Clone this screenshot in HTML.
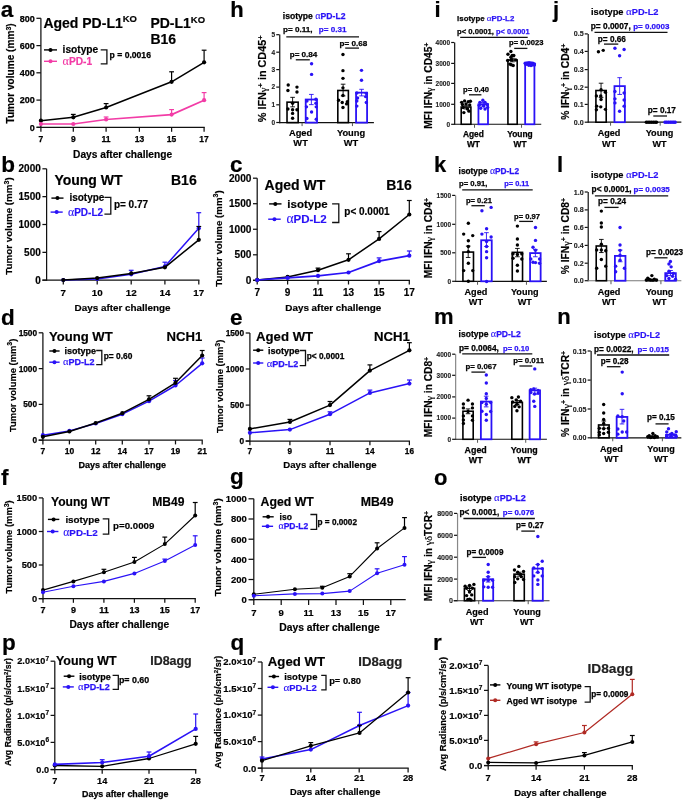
<!DOCTYPE html>
<html><head><meta charset="utf-8"><style>
html,body{margin:0;padding:0;background:#fff;width:685px;height:800px;overflow:hidden}
svg{display:block;will-change:transform;filter:blur(0.3px)}
text{font-family:"Liberation Sans",sans-serif}
</style></head><body>
<svg width="685" height="800" viewBox="0 0 685 800" font-family="Liberation Sans, sans-serif">
<rect width="685" height="800" fill="#fff"/>
<line x1="40.90" y1="18.30" x2="40.90" y2="127.92" stroke="#111" stroke-width="1.25" stroke-linecap="butt"/>
<line x1="36.70" y1="127.30" x2="204.72" y2="127.30" stroke="#111" stroke-width="1.25" stroke-linecap="butt"/>
<line x1="36.40" y1="18.30" x2="40.90" y2="18.30" stroke="#111" stroke-width="1.25" stroke-linecap="butt"/>
<text x="34.80" y="21.50" font-size="9" text-anchor="end" fill="#000" font-weight="bold" stroke="#000" stroke-width="0.25">800</text>
<line x1="36.40" y1="45.60" x2="40.90" y2="45.60" stroke="#111" stroke-width="1.25" stroke-linecap="butt"/>
<text x="34.80" y="48.80" font-size="9" text-anchor="end" fill="#000" font-weight="bold" stroke="#000" stroke-width="0.25">600</text>
<line x1="36.40" y1="72.80" x2="40.90" y2="72.80" stroke="#111" stroke-width="1.25" stroke-linecap="butt"/>
<text x="34.80" y="75.99" font-size="9" text-anchor="end" fill="#000" font-weight="bold" stroke="#000" stroke-width="0.25">400</text>
<line x1="36.40" y1="100.10" x2="40.90" y2="100.10" stroke="#111" stroke-width="1.25" stroke-linecap="butt"/>
<text x="34.80" y="103.29" font-size="9" text-anchor="end" fill="#000" font-weight="bold" stroke="#000" stroke-width="0.25">200</text>
<line x1="36.40" y1="127.30" x2="40.90" y2="127.30" stroke="#111" stroke-width="1.25" stroke-linecap="butt"/>
<text x="34.80" y="130.50" font-size="9" text-anchor="end" fill="#000" font-weight="bold" stroke="#000" stroke-width="0.25">0</text>
<line x1="40.90" y1="127.30" x2="40.90" y2="131.80" stroke="#111" stroke-width="1.25" stroke-linecap="butt"/>
<text x="40.90" y="141.62" font-size="8.5" text-anchor="middle" fill="#000" font-weight="bold" stroke="#000" stroke-width="0.25">7</text>
<line x1="73.30" y1="127.30" x2="73.30" y2="131.80" stroke="#111" stroke-width="1.25" stroke-linecap="butt"/>
<text x="73.30" y="141.62" font-size="8.5" text-anchor="middle" fill="#000" font-weight="bold" stroke="#000" stroke-width="0.25">9</text>
<line x1="106.10" y1="127.30" x2="106.10" y2="131.80" stroke="#111" stroke-width="1.25" stroke-linecap="butt"/>
<text x="106.10" y="141.62" font-size="8.5" text-anchor="middle" fill="#000" font-weight="bold" stroke="#000" stroke-width="0.25">11</text>
<line x1="139.40" y1="127.30" x2="139.40" y2="131.80" stroke="#111" stroke-width="1.25" stroke-linecap="butt"/>
<text x="139.40" y="141.62" font-size="8.5" text-anchor="middle" fill="#000" font-weight="bold" stroke="#000" stroke-width="0.25">13</text>
<line x1="171.60" y1="127.30" x2="171.60" y2="131.80" stroke="#111" stroke-width="1.25" stroke-linecap="butt"/>
<text x="171.60" y="141.62" font-size="8.5" text-anchor="middle" fill="#000" font-weight="bold" stroke="#000" stroke-width="0.25">15</text>
<line x1="204.10" y1="127.30" x2="204.10" y2="131.80" stroke="#111" stroke-width="1.25" stroke-linecap="butt"/>
<text x="204.10" y="141.62" font-size="8.5" text-anchor="middle" fill="#000" font-weight="bold" stroke="#000" stroke-width="0.25">17</text>
<text x="122.60" y="158.12" font-size="10.2" text-anchor="middle" fill="#000" font-weight="bold" stroke="#000" stroke-width="0.18">Days after challenge</text>
<text x="14.33" y="73.40" font-size="10.1" text-anchor="middle" font-weight="bold" stroke="#000" stroke-width="0.18" transform="rotate(-90 14.33 73.40)">Tumor volume (mm<tspan dy="-3.5" font-size="7">3</tspan><tspan dy="3.5">)</tspan></text>
<line x1="73.30" y1="117.30" x2="73.30" y2="114.40" stroke="#000" stroke-width="1.2" stroke-linecap="butt"/>
<line x1="70.90" y1="114.40" x2="75.70" y2="114.40" stroke="#000" stroke-width="1.2" stroke-linecap="butt"/>
<line x1="106.10" y1="107.50" x2="106.10" y2="103.60" stroke="#000" stroke-width="1.2" stroke-linecap="butt"/>
<line x1="103.70" y1="103.60" x2="108.50" y2="103.60" stroke="#000" stroke-width="1.2" stroke-linecap="butt"/>
<line x1="171.60" y1="81.80" x2="171.60" y2="71.80" stroke="#000" stroke-width="1.2" stroke-linecap="butt"/>
<line x1="169.20" y1="71.80" x2="174.00" y2="71.80" stroke="#000" stroke-width="1.2" stroke-linecap="butt"/>
<line x1="204.10" y1="62.30" x2="204.10" y2="50.20" stroke="#000" stroke-width="1.2" stroke-linecap="butt"/>
<line x1="201.70" y1="50.20" x2="206.50" y2="50.20" stroke="#000" stroke-width="1.2" stroke-linecap="butt"/>
<polyline points="40.90,120.70 73.30,117.30 106.10,107.50 171.60,81.80 204.10,62.30" fill="none" stroke="#000" stroke-width="1.5" stroke-linejoin="round"/>
<circle cx="40.90" cy="120.70" r="2.1" fill="#000"/>
<circle cx="73.30" cy="117.30" r="2.1" fill="#000"/>
<circle cx="106.10" cy="107.50" r="2.1" fill="#000"/>
<circle cx="171.60" cy="81.80" r="2.1" fill="#000"/>
<circle cx="204.10" cy="62.30" r="2.1" fill="#000"/>
<line x1="106.10" y1="119.50" x2="106.10" y2="117.00" stroke="#f23ca6" stroke-width="1.2" stroke-linecap="butt"/>
<line x1="103.70" y1="117.00" x2="108.50" y2="117.00" stroke="#f23ca6" stroke-width="1.2" stroke-linecap="butt"/>
<line x1="171.60" y1="114.60" x2="171.60" y2="109.60" stroke="#f23ca6" stroke-width="1.2" stroke-linecap="butt"/>
<line x1="169.20" y1="109.60" x2="174.00" y2="109.60" stroke="#f23ca6" stroke-width="1.2" stroke-linecap="butt"/>
<line x1="204.10" y1="100.20" x2="204.10" y2="92.60" stroke="#f23ca6" stroke-width="1.2" stroke-linecap="butt"/>
<line x1="201.70" y1="92.60" x2="206.50" y2="92.60" stroke="#f23ca6" stroke-width="1.2" stroke-linecap="butt"/>
<polyline points="40.90,124.00 73.30,124.00 106.10,119.50 171.60,114.60 204.10,100.20" fill="none" stroke="#f23ca6" stroke-width="1.7" stroke-linejoin="round"/>
<circle cx="40.90" cy="124.00" r="2.1" fill="#f23ca6"/>
<circle cx="73.30" cy="124.00" r="2.1" fill="#f23ca6"/>
<circle cx="106.10" cy="119.50" r="2.1" fill="#f23ca6"/>
<circle cx="171.60" cy="114.60" r="2.1" fill="#f23ca6"/>
<circle cx="204.10" cy="100.20" r="2.1" fill="#f23ca6"/>
<text x="0.80" y="17.30" font-size="22.5" text-anchor="start" fill="#000" font-weight="bold" stroke="#000" stroke-width="0.18">a</text>
<text x="43.40" y="27.70" font-size="14" text-anchor="start" fill="#000" font-weight="bold" stroke="#000" stroke-width="0.18">Aged PD-L1<tspan dy="-5.5" font-size="9.5">KO</tspan></text>
<text x="150.40" y="28.00" font-size="14" text-anchor="start" fill="#000" font-weight="bold" stroke="#000" stroke-width="0.18">PD-L1<tspan dy="-5.5" font-size="9.5">KO</tspan></text>
<text x="150.40" y="43.70" font-size="14" text-anchor="start" fill="#000" font-weight="bold" stroke="#000" stroke-width="0.18">B16</text>
<line x1="44.00" y1="49.90" x2="57.00" y2="49.90" stroke="#000" stroke-width="1.4" stroke-linecap="butt"/>
<circle cx="50.50" cy="49.90" r="2.0" fill="#000"/>
<text x="62.60" y="53.40" font-size="10.2" text-anchor="start" fill="#000" font-weight="bold" stroke="#000" stroke-width="0.18">isotype</text>
<line x1="44.00" y1="61.30" x2="57.00" y2="61.30" stroke="#f23ca6" stroke-width="1.4" stroke-linecap="butt"/>
<circle cx="50.50" cy="61.30" r="2.0" fill="#f23ca6"/>
<text x="62.60" y="65.30" font-size="10.2" text-anchor="start" fill="#f23ca6" font-weight="bold" stroke="#f23ca6" stroke-width="0.18"><tspan font-family="Liberation Serif" font-weight="normal" stroke-width="0.1" style="font-size:1.18em">&#945;</tspan>PD-1</text>
<polyline points="100.70,49.90 106.90,49.90 106.90,63.80 100.70,63.80" fill="none" stroke="#111" stroke-width="1.3"/>
<text x="109.60" y="58.40" font-size="8.6" text-anchor="start" fill="#000" font-weight="bold" stroke="#000" stroke-width="0.25">p = 0.0016</text>
<line x1="46.60" y1="168.80" x2="46.60" y2="280.82" stroke="#111" stroke-width="1.25" stroke-linecap="butt"/>
<line x1="42.40" y1="280.20" x2="199.43" y2="280.20" stroke="#111" stroke-width="1.25" stroke-linecap="butt"/>
<line x1="42.40" y1="168.80" x2="46.60" y2="168.80" stroke="#111" stroke-width="1.25" stroke-linecap="butt"/>
<text x="40.80" y="172.35" font-size="10" text-anchor="end" fill="#000" font-weight="bold" stroke="#000" stroke-width="0.18">2000</text>
<line x1="42.40" y1="196.65" x2="46.60" y2="196.65" stroke="#111" stroke-width="1.25" stroke-linecap="butt"/>
<text x="40.80" y="200.20" font-size="10" text-anchor="end" fill="#000" font-weight="bold" stroke="#000" stroke-width="0.18">1500</text>
<line x1="42.40" y1="224.50" x2="46.60" y2="224.50" stroke="#111" stroke-width="1.25" stroke-linecap="butt"/>
<text x="40.80" y="228.05" font-size="10" text-anchor="end" fill="#000" font-weight="bold" stroke="#000" stroke-width="0.18">1000</text>
<line x1="42.40" y1="252.35" x2="46.60" y2="252.35" stroke="#111" stroke-width="1.25" stroke-linecap="butt"/>
<text x="40.80" y="255.90" font-size="10" text-anchor="end" fill="#000" font-weight="bold" stroke="#000" stroke-width="0.18">500</text>
<line x1="42.40" y1="280.20" x2="46.60" y2="280.20" stroke="#111" stroke-width="1.25" stroke-linecap="butt"/>
<text x="40.80" y="283.75" font-size="10" text-anchor="end" fill="#000" font-weight="bold" stroke="#000" stroke-width="0.18">0</text>
<line x1="63.30" y1="280.20" x2="63.30" y2="284.40" stroke="#111" stroke-width="1.25" stroke-linecap="butt"/>
<text x="63.30" y="296.38" font-size="9.8" text-anchor="middle" fill="#000" font-weight="bold" stroke="#000" stroke-width="0.18">7</text>
<line x1="97.20" y1="280.20" x2="97.20" y2="284.40" stroke="#111" stroke-width="1.25" stroke-linecap="butt"/>
<text x="97.20" y="296.38" font-size="9.8" text-anchor="middle" fill="#000" font-weight="bold" stroke="#000" stroke-width="0.18">10</text>
<line x1="131.20" y1="280.20" x2="131.20" y2="284.40" stroke="#111" stroke-width="1.25" stroke-linecap="butt"/>
<text x="131.20" y="296.38" font-size="9.8" text-anchor="middle" fill="#000" font-weight="bold" stroke="#000" stroke-width="0.18">12</text>
<line x1="164.90" y1="280.20" x2="164.90" y2="284.40" stroke="#111" stroke-width="1.25" stroke-linecap="butt"/>
<text x="164.90" y="296.38" font-size="9.8" text-anchor="middle" fill="#000" font-weight="bold" stroke="#000" stroke-width="0.18">14</text>
<line x1="198.80" y1="280.20" x2="198.80" y2="284.40" stroke="#111" stroke-width="1.25" stroke-linecap="butt"/>
<text x="198.80" y="296.38" font-size="9.8" text-anchor="middle" fill="#000" font-weight="bold" stroke="#000" stroke-width="0.18">17</text>
<text x="122.60" y="310.61" font-size="9.9" text-anchor="middle" fill="#000" font-weight="bold" stroke="#000" stroke-width="0.18">Days after challenge</text>
<text x="12.43" y="226.00" font-size="9.8" text-anchor="middle" font-weight="bold" stroke="#000" stroke-width="0.18" transform="rotate(-90 12.43 226.00)">Tumor volume (mm<tspan dy="-3.5" font-size="7">3</tspan><tspan dy="3.5">)</tspan></text>
<line x1="131.20" y1="274.30" x2="131.20" y2="270.30" stroke="#2a12f6" stroke-width="1.2" stroke-linecap="butt"/>
<line x1="128.80" y1="270.30" x2="133.60" y2="270.30" stroke="#2a12f6" stroke-width="1.2" stroke-linecap="butt"/>
<line x1="164.90" y1="266.40" x2="164.90" y2="262.20" stroke="#2a12f6" stroke-width="1.2" stroke-linecap="butt"/>
<line x1="162.50" y1="262.20" x2="167.30" y2="262.20" stroke="#2a12f6" stroke-width="1.2" stroke-linecap="butt"/>
<line x1="198.80" y1="228.30" x2="198.80" y2="212.70" stroke="#2a12f6" stroke-width="1.2" stroke-linecap="butt"/>
<line x1="196.40" y1="212.70" x2="201.20" y2="212.70" stroke="#2a12f6" stroke-width="1.2" stroke-linecap="butt"/>
<polyline points="63.30,280.00 97.20,279.00 131.20,274.30 164.90,266.40 198.80,228.30" fill="none" stroke="#2a12f6" stroke-width="1.5" stroke-linejoin="round"/>
<circle cx="63.30" cy="280.00" r="2.1" fill="#2a12f6"/>
<circle cx="97.20" cy="279.00" r="2.1" fill="#2a12f6"/>
<circle cx="131.20" cy="274.30" r="2.1" fill="#2a12f6"/>
<circle cx="164.90" cy="266.40" r="2.1" fill="#2a12f6"/>
<circle cx="198.80" cy="228.30" r="2.1" fill="#2a12f6"/>
<line x1="198.80" y1="239.80" x2="198.80" y2="226.50" stroke="#000" stroke-width="1.2" stroke-linecap="butt"/>
<line x1="196.40" y1="226.50" x2="201.20" y2="226.50" stroke="#000" stroke-width="1.2" stroke-linecap="butt"/>
<polyline points="63.30,280.00 97.20,278.10 131.20,273.40 164.90,267.30 198.80,239.80" fill="none" stroke="#000" stroke-width="1.5" stroke-linejoin="round"/>
<circle cx="63.30" cy="280.00" r="2.1" fill="#000"/>
<circle cx="97.20" cy="278.10" r="2.1" fill="#000"/>
<circle cx="131.20" cy="273.40" r="2.1" fill="#000"/>
<circle cx="164.90" cy="267.30" r="2.1" fill="#000"/>
<circle cx="198.80" cy="239.80" r="2.1" fill="#000"/>
<text x="1.20" y="171.50" font-size="22.5" text-anchor="start" fill="#000" font-weight="bold" stroke="#000" stroke-width="0.18">b</text>
<text x="54.40" y="184.90" font-size="14" text-anchor="start" fill="#000" font-weight="bold" stroke="#000" stroke-width="0.18">Young WT</text>
<text x="171.00" y="184.90" font-size="14" text-anchor="start" fill="#000" font-weight="bold" stroke="#000" stroke-width="0.18">B16</text>
<line x1="51.40" y1="198.10" x2="63.50" y2="198.10" stroke="#000" stroke-width="1.4" stroke-linecap="butt"/>
<circle cx="57.45" cy="198.10" r="2.0" fill="#000"/>
<text x="69.40" y="201.30" font-size="10" text-anchor="start" fill="#000" font-weight="bold" stroke="#000" stroke-width="0.18">isotype</text>
<line x1="50.60" y1="212.10" x2="62.70" y2="212.10" stroke="#2a12f6" stroke-width="1.4" stroke-linecap="butt"/>
<circle cx="56.65" cy="212.10" r="2.0" fill="#2a12f6"/>
<text x="68.00" y="215.80" font-size="10" text-anchor="start" fill="#2a12f6" font-weight="bold" stroke="#2a12f6" stroke-width="0.18"><tspan font-family="Liberation Serif" font-weight="normal" stroke-width="0.1" style="font-size:1.18em">&#945;</tspan>PD-L2</text>
<polyline points="104.40,197.30 110.80,197.30 110.80,214.20 104.40,214.20" fill="none" stroke="#111" stroke-width="1.3"/>
<text x="113.90" y="207.70" font-size="10" text-anchor="start" fill="#000" font-weight="bold" stroke="#000" stroke-width="0.18">p= 0.77</text>
<line x1="257.20" y1="178.20" x2="257.20" y2="280.93" stroke="#111" stroke-width="1.25" stroke-linecap="butt"/>
<line x1="253.00" y1="280.30" x2="409.93" y2="280.30" stroke="#111" stroke-width="1.25" stroke-linecap="butt"/>
<line x1="253.00" y1="178.20" x2="257.20" y2="178.20" stroke="#111" stroke-width="1.25" stroke-linecap="butt"/>
<text x="251.40" y="181.79" font-size="10.1" text-anchor="end" fill="#000" font-weight="bold" stroke="#000" stroke-width="0.18">2000</text>
<line x1="253.00" y1="203.70" x2="257.20" y2="203.70" stroke="#111" stroke-width="1.25" stroke-linecap="butt"/>
<text x="251.40" y="207.29" font-size="10.1" text-anchor="end" fill="#000" font-weight="bold" stroke="#000" stroke-width="0.18">1500</text>
<line x1="253.00" y1="229.25" x2="257.20" y2="229.25" stroke="#111" stroke-width="1.25" stroke-linecap="butt"/>
<text x="251.40" y="232.84" font-size="10.1" text-anchor="end" fill="#000" font-weight="bold" stroke="#000" stroke-width="0.18">1000</text>
<line x1="253.00" y1="254.80" x2="257.20" y2="254.80" stroke="#111" stroke-width="1.25" stroke-linecap="butt"/>
<text x="251.40" y="258.39" font-size="10.1" text-anchor="end" fill="#000" font-weight="bold" stroke="#000" stroke-width="0.18">500</text>
<line x1="253.00" y1="280.30" x2="257.20" y2="280.30" stroke="#111" stroke-width="1.25" stroke-linecap="butt"/>
<text x="251.40" y="283.89" font-size="10.1" text-anchor="end" fill="#000" font-weight="bold" stroke="#000" stroke-width="0.18">0</text>
<line x1="257.20" y1="280.30" x2="257.20" y2="284.50" stroke="#111" stroke-width="1.25" stroke-linecap="butt"/>
<text x="257.20" y="296.35" font-size="10" text-anchor="middle" fill="#000" font-weight="bold" stroke="#000" stroke-width="0.18">7</text>
<line x1="287.60" y1="280.30" x2="287.60" y2="284.50" stroke="#111" stroke-width="1.25" stroke-linecap="butt"/>
<text x="287.60" y="296.35" font-size="10" text-anchor="middle" fill="#000" font-weight="bold" stroke="#000" stroke-width="0.18">9</text>
<line x1="318.00" y1="280.30" x2="318.00" y2="284.50" stroke="#111" stroke-width="1.25" stroke-linecap="butt"/>
<text x="318.00" y="296.35" font-size="10" text-anchor="middle" fill="#000" font-weight="bold" stroke="#000" stroke-width="0.18">11</text>
<line x1="348.50" y1="280.30" x2="348.50" y2="284.50" stroke="#111" stroke-width="1.25" stroke-linecap="butt"/>
<text x="348.50" y="296.35" font-size="10" text-anchor="middle" fill="#000" font-weight="bold" stroke="#000" stroke-width="0.18">13</text>
<line x1="379.10" y1="280.30" x2="379.10" y2="284.50" stroke="#111" stroke-width="1.25" stroke-linecap="butt"/>
<text x="379.10" y="296.35" font-size="10" text-anchor="middle" fill="#000" font-weight="bold" stroke="#000" stroke-width="0.18">15</text>
<line x1="409.30" y1="280.30" x2="409.30" y2="284.50" stroke="#111" stroke-width="1.25" stroke-linecap="butt"/>
<text x="409.30" y="296.35" font-size="10" text-anchor="middle" fill="#000" font-weight="bold" stroke="#000" stroke-width="0.18">17</text>
<text x="333.30" y="311.21" font-size="9.9" text-anchor="middle" fill="#000" font-weight="bold" stroke="#000" stroke-width="0.18">Days after challenge</text>
<text x="221.80" y="238.50" font-size="9.7" text-anchor="middle" font-weight="bold" stroke="#000" stroke-width="0.18" transform="rotate(-90 221.80 238.50)">Tumor volume (mm<tspan dy="-3.5" font-size="7">3</tspan><tspan dy="3.5">)</tspan></text>
<line x1="318.00" y1="270.20" x2="318.00" y2="268.10" stroke="#000" stroke-width="1.2" stroke-linecap="butt"/>
<line x1="315.60" y1="268.10" x2="320.40" y2="268.10" stroke="#000" stroke-width="1.2" stroke-linecap="butt"/>
<line x1="348.50" y1="259.80" x2="348.50" y2="253.80" stroke="#000" stroke-width="1.2" stroke-linecap="butt"/>
<line x1="346.10" y1="253.80" x2="350.90" y2="253.80" stroke="#000" stroke-width="1.2" stroke-linecap="butt"/>
<line x1="379.10" y1="238.90" x2="379.10" y2="231.60" stroke="#000" stroke-width="1.2" stroke-linecap="butt"/>
<line x1="376.70" y1="231.60" x2="381.50" y2="231.60" stroke="#000" stroke-width="1.2" stroke-linecap="butt"/>
<line x1="409.30" y1="214.50" x2="409.30" y2="200.50" stroke="#000" stroke-width="1.2" stroke-linecap="butt"/>
<line x1="406.90" y1="200.50" x2="411.70" y2="200.50" stroke="#000" stroke-width="1.2" stroke-linecap="butt"/>
<polyline points="257.20,279.90 287.60,276.90 318.00,270.20 348.50,259.80 379.10,238.90 409.30,214.50" fill="none" stroke="#000" stroke-width="1.5" stroke-linejoin="round"/>
<circle cx="257.20" cy="279.90" r="2.1" fill="#000"/>
<circle cx="287.60" cy="276.90" r="2.1" fill="#000"/>
<circle cx="318.00" cy="270.20" r="2.1" fill="#000"/>
<circle cx="348.50" cy="259.80" r="2.1" fill="#000"/>
<circle cx="379.10" cy="238.90" r="2.1" fill="#000"/>
<circle cx="409.30" cy="214.50" r="2.1" fill="#000"/>
<line x1="379.10" y1="261.10" x2="379.10" y2="257.90" stroke="#2a12f6" stroke-width="1.2" stroke-linecap="butt"/>
<line x1="376.70" y1="257.90" x2="381.50" y2="257.90" stroke="#2a12f6" stroke-width="1.2" stroke-linecap="butt"/>
<line x1="409.30" y1="255.70" x2="409.30" y2="251.00" stroke="#2a12f6" stroke-width="1.2" stroke-linecap="butt"/>
<line x1="406.90" y1="251.00" x2="411.70" y2="251.00" stroke="#2a12f6" stroke-width="1.2" stroke-linecap="butt"/>
<polyline points="257.20,280.00 287.60,277.90 318.00,275.90 348.50,272.50 379.10,261.10 409.30,255.70" fill="none" stroke="#2a12f6" stroke-width="1.75" stroke-linejoin="round"/>
<circle cx="257.20" cy="280.00" r="2.1" fill="#2a12f6"/>
<circle cx="287.60" cy="277.90" r="2.1" fill="#2a12f6"/>
<circle cx="318.00" cy="275.90" r="2.1" fill="#2a12f6"/>
<circle cx="348.50" cy="272.50" r="2.1" fill="#2a12f6"/>
<circle cx="379.10" cy="261.10" r="2.1" fill="#2a12f6"/>
<circle cx="409.30" cy="255.70" r="2.1" fill="#2a12f6"/>
<text x="230.00" y="171.50" font-size="22.5" text-anchor="start" fill="#000" font-weight="bold" stroke="#000" stroke-width="0.18">c</text>
<text x="264.60" y="189.50" font-size="14" text-anchor="start" fill="#000" font-weight="bold" stroke="#000" stroke-width="0.18">Aged WT</text>
<text x="386.20" y="189.50" font-size="14" text-anchor="start" fill="#000" font-weight="bold" stroke="#000" stroke-width="0.18">B16</text>
<line x1="269.10" y1="203.90" x2="281.50" y2="203.90" stroke="#000" stroke-width="1.4" stroke-linecap="butt"/>
<circle cx="275.30" cy="203.90" r="2.0" fill="#000"/>
<text x="287.30" y="207.90" font-size="11.5" text-anchor="start" fill="#000" font-weight="bold" stroke="#000" stroke-width="0.18">isotype</text>
<line x1="268.20" y1="219.20" x2="280.70" y2="219.20" stroke="#2a12f6" stroke-width="1.4" stroke-linecap="butt"/>
<circle cx="274.45" cy="219.20" r="2.0" fill="#2a12f6"/>
<text x="286.40" y="223.20" font-size="11.5" text-anchor="start" fill="#2a12f6" font-weight="bold" stroke="#2a12f6" stroke-width="0.18"><tspan font-family="Liberation Serif" font-weight="normal" stroke-width="0.1" style="font-size:1.18em">&#945;</tspan>PD-L2</text>
<polyline points="332.10,203.90 338.80,203.90 338.80,222.50 332.10,222.50" fill="none" stroke="#111" stroke-width="1.3"/>
<text x="344.30" y="215.40" font-size="10" text-anchor="start" fill="#000" font-weight="bold" stroke="#000" stroke-width="0.18">p&lt; 0.0001</text>
<line x1="42.90" y1="332.80" x2="42.90" y2="440.82" stroke="#111" stroke-width="1.25" stroke-linecap="butt"/>
<line x1="38.70" y1="440.20" x2="202.82" y2="440.20" stroke="#111" stroke-width="1.25" stroke-linecap="butt"/>
<line x1="38.70" y1="332.80" x2="42.90" y2="332.80" stroke="#111" stroke-width="1.25" stroke-linecap="butt"/>
<text x="37.10" y="335.75" font-size="8.3" text-anchor="end" fill="#000" font-weight="bold" stroke="#000" stroke-width="0.25">1500</text>
<line x1="38.70" y1="368.60" x2="42.90" y2="368.60" stroke="#111" stroke-width="1.25" stroke-linecap="butt"/>
<text x="37.10" y="371.55" font-size="8.3" text-anchor="end" fill="#000" font-weight="bold" stroke="#000" stroke-width="0.25">1000</text>
<line x1="38.70" y1="404.40" x2="42.90" y2="404.40" stroke="#111" stroke-width="1.25" stroke-linecap="butt"/>
<text x="37.10" y="407.35" font-size="8.3" text-anchor="end" fill="#000" font-weight="bold" stroke="#000" stroke-width="0.25">500</text>
<line x1="38.70" y1="440.20" x2="42.90" y2="440.20" stroke="#111" stroke-width="1.25" stroke-linecap="butt"/>
<text x="37.10" y="443.15" font-size="8.3" text-anchor="end" fill="#000" font-weight="bold" stroke="#000" stroke-width="0.25">0</text>
<line x1="42.90" y1="440.20" x2="42.90" y2="444.40" stroke="#111" stroke-width="1.25" stroke-linecap="butt"/>
<text x="42.90" y="453.72" font-size="8.5" text-anchor="middle" fill="#000" font-weight="bold" stroke="#000" stroke-width="0.25">7</text>
<line x1="69.40" y1="440.20" x2="69.40" y2="444.40" stroke="#111" stroke-width="1.25" stroke-linecap="butt"/>
<text x="69.40" y="453.72" font-size="8.5" text-anchor="middle" fill="#000" font-weight="bold" stroke="#000" stroke-width="0.25">10</text>
<line x1="95.70" y1="440.20" x2="95.70" y2="444.40" stroke="#111" stroke-width="1.25" stroke-linecap="butt"/>
<text x="95.70" y="453.72" font-size="8.5" text-anchor="middle" fill="#000" font-weight="bold" stroke="#000" stroke-width="0.25">12</text>
<line x1="122.30" y1="440.20" x2="122.30" y2="444.40" stroke="#111" stroke-width="1.25" stroke-linecap="butt"/>
<text x="122.30" y="453.72" font-size="8.5" text-anchor="middle" fill="#000" font-weight="bold" stroke="#000" stroke-width="0.25">14</text>
<line x1="149.00" y1="440.20" x2="149.00" y2="444.40" stroke="#111" stroke-width="1.25" stroke-linecap="butt"/>
<text x="149.00" y="453.72" font-size="8.5" text-anchor="middle" fill="#000" font-weight="bold" stroke="#000" stroke-width="0.25">17</text>
<line x1="175.50" y1="440.20" x2="175.50" y2="444.40" stroke="#111" stroke-width="1.25" stroke-linecap="butt"/>
<text x="175.50" y="453.72" font-size="8.5" text-anchor="middle" fill="#000" font-weight="bold" stroke="#000" stroke-width="0.25">19</text>
<line x1="202.20" y1="440.20" x2="202.20" y2="444.40" stroke="#111" stroke-width="1.25" stroke-linecap="butt"/>
<text x="202.20" y="453.72" font-size="8.5" text-anchor="middle" fill="#000" font-weight="bold" stroke="#000" stroke-width="0.25">21</text>
<text x="122.35" y="468.09" font-size="9.0" text-anchor="middle" fill="#000" font-weight="bold" stroke="#000" stroke-width="0.25">Days after challenge</text>
<text x="15.80" y="385.30" font-size="9.4" text-anchor="middle" font-weight="bold" stroke="#000" stroke-width="0.18" transform="rotate(-90 15.80 385.30)">Tumor volume (mm<tspan dy="-3.5" font-size="7">3</tspan><tspan dy="3.5">)</tspan></text>
<line x1="175.50" y1="385.50" x2="175.50" y2="380.50" stroke="#2a12f6" stroke-width="1.2" stroke-linecap="butt"/>
<line x1="173.10" y1="380.50" x2="177.90" y2="380.50" stroke="#2a12f6" stroke-width="1.2" stroke-linecap="butt"/>
<line x1="202.20" y1="363.30" x2="202.20" y2="358.00" stroke="#2a12f6" stroke-width="1.2" stroke-linecap="butt"/>
<line x1="199.80" y1="358.00" x2="204.60" y2="358.00" stroke="#2a12f6" stroke-width="1.2" stroke-linecap="butt"/>
<polyline points="42.90,435.20 69.40,430.90 95.70,423.50 122.30,414.20 149.00,401.20 175.50,385.50 202.20,363.30" fill="none" stroke="#2a12f6" stroke-width="1.5" stroke-linejoin="round"/>
<circle cx="42.90" cy="435.20" r="2.1" fill="#2a12f6"/>
<circle cx="69.40" cy="430.90" r="2.1" fill="#2a12f6"/>
<circle cx="95.70" cy="423.50" r="2.1" fill="#2a12f6"/>
<circle cx="122.30" cy="414.20" r="2.1" fill="#2a12f6"/>
<circle cx="149.00" cy="401.20" r="2.1" fill="#2a12f6"/>
<circle cx="175.50" cy="385.50" r="2.1" fill="#2a12f6"/>
<circle cx="202.20" cy="363.30" r="2.1" fill="#2a12f6"/>
<line x1="149.00" y1="399.30" x2="149.00" y2="395.80" stroke="#000" stroke-width="1.2" stroke-linecap="butt"/>
<line x1="146.60" y1="395.80" x2="151.40" y2="395.80" stroke="#000" stroke-width="1.2" stroke-linecap="butt"/>
<line x1="175.50" y1="382.80" x2="175.50" y2="378.30" stroke="#000" stroke-width="1.2" stroke-linecap="butt"/>
<line x1="173.10" y1="378.30" x2="177.90" y2="378.30" stroke="#000" stroke-width="1.2" stroke-linecap="butt"/>
<line x1="202.20" y1="355.50" x2="202.20" y2="350.50" stroke="#000" stroke-width="1.2" stroke-linecap="butt"/>
<line x1="199.80" y1="350.50" x2="204.60" y2="350.50" stroke="#000" stroke-width="1.2" stroke-linecap="butt"/>
<polyline points="42.90,436.80 69.40,431.50 95.70,423.00 122.30,413.20 149.00,399.30 175.50,382.80 202.20,355.50" fill="none" stroke="#000" stroke-width="1.5" stroke-linejoin="round"/>
<circle cx="42.90" cy="436.80" r="2.1" fill="#000"/>
<circle cx="69.40" cy="431.50" r="2.1" fill="#000"/>
<circle cx="95.70" cy="423.00" r="2.1" fill="#000"/>
<circle cx="122.30" cy="413.20" r="2.1" fill="#000"/>
<circle cx="149.00" cy="399.30" r="2.1" fill="#000"/>
<circle cx="175.50" cy="382.80" r="2.1" fill="#000"/>
<circle cx="202.20" cy="355.50" r="2.1" fill="#000"/>
<text x="1.00" y="324.50" font-size="22.5" text-anchor="start" fill="#000" font-weight="bold" stroke="#000" stroke-width="0.18">d</text>
<text x="48.90" y="340.80" font-size="13.1" text-anchor="start" fill="#000" font-weight="bold" stroke="#000" stroke-width="0.18">Young WT</text>
<text x="166.60" y="340.80" font-size="13.1" text-anchor="start" fill="#000" font-weight="bold" stroke="#000" stroke-width="0.18">NCH1</text>
<line x1="49.30" y1="351.00" x2="59.60" y2="351.00" stroke="#000" stroke-width="1.4" stroke-linecap="butt"/>
<circle cx="54.45" cy="351.00" r="2.0" fill="#000"/>
<text x="64.40" y="353.90" font-size="9" text-anchor="start" fill="#000" font-weight="bold" stroke="#000" stroke-width="0.25">isotype</text>
<line x1="49.30" y1="362.20" x2="59.60" y2="362.20" stroke="#2a12f6" stroke-width="1.4" stroke-linecap="butt"/>
<circle cx="54.45" cy="362.20" r="2.0" fill="#2a12f6"/>
<text x="63.00" y="365.40" font-size="9" text-anchor="start" fill="#2a12f6" font-weight="bold" stroke="#2a12f6" stroke-width="0.25"><tspan font-family="Liberation Serif" font-weight="normal" stroke-width="0.1" style="font-size:1.18em">&#945;</tspan>PD-L2</text>
<polyline points="96.20,350.50 101.80,350.50 101.80,364.60 96.20,364.60" fill="none" stroke="#111" stroke-width="1.3"/>
<text x="103.70" y="359.30" font-size="8.4" text-anchor="start" fill="#000" font-weight="bold" stroke="#000" stroke-width="0.25">p= 0.60</text>
<line x1="249.90" y1="333.00" x2="249.90" y2="441.62" stroke="#111" stroke-width="1.25" stroke-linecap="butt"/>
<line x1="245.70" y1="441.00" x2="410.02" y2="441.00" stroke="#111" stroke-width="1.25" stroke-linecap="butt"/>
<line x1="245.70" y1="333.00" x2="249.90" y2="333.00" stroke="#111" stroke-width="1.25" stroke-linecap="butt"/>
<text x="244.10" y="335.95" font-size="8.3" text-anchor="end" fill="#000" font-weight="bold" stroke="#000" stroke-width="0.25">1500</text>
<line x1="245.70" y1="369.00" x2="249.90" y2="369.00" stroke="#111" stroke-width="1.25" stroke-linecap="butt"/>
<text x="244.10" y="371.95" font-size="8.3" text-anchor="end" fill="#000" font-weight="bold" stroke="#000" stroke-width="0.25">1000</text>
<line x1="245.70" y1="405.10" x2="249.90" y2="405.10" stroke="#111" stroke-width="1.25" stroke-linecap="butt"/>
<text x="244.10" y="408.05" font-size="8.3" text-anchor="end" fill="#000" font-weight="bold" stroke="#000" stroke-width="0.25">500</text>
<line x1="245.70" y1="441.00" x2="249.90" y2="441.00" stroke="#111" stroke-width="1.25" stroke-linecap="butt"/>
<text x="244.10" y="443.95" font-size="8.3" text-anchor="end" fill="#000" font-weight="bold" stroke="#000" stroke-width="0.25">0</text>
<line x1="249.90" y1="441.00" x2="249.90" y2="445.20" stroke="#111" stroke-width="1.25" stroke-linecap="butt"/>
<text x="249.90" y="453.61" font-size="8.2" text-anchor="middle" fill="#000" font-weight="bold" stroke="#000" stroke-width="0.25">7</text>
<line x1="289.90" y1="441.00" x2="289.90" y2="445.20" stroke="#111" stroke-width="1.25" stroke-linecap="butt"/>
<text x="289.90" y="453.61" font-size="8.2" text-anchor="middle" fill="#000" font-weight="bold" stroke="#000" stroke-width="0.25">9</text>
<line x1="330.00" y1="441.00" x2="330.00" y2="445.20" stroke="#111" stroke-width="1.25" stroke-linecap="butt"/>
<text x="330.00" y="453.61" font-size="8.2" text-anchor="middle" fill="#000" font-weight="bold" stroke="#000" stroke-width="0.25">11</text>
<line x1="369.90" y1="441.00" x2="369.90" y2="445.20" stroke="#111" stroke-width="1.25" stroke-linecap="butt"/>
<text x="369.90" y="453.61" font-size="8.2" text-anchor="middle" fill="#000" font-weight="bold" stroke="#000" stroke-width="0.25">14</text>
<line x1="409.40" y1="441.00" x2="409.40" y2="445.20" stroke="#111" stroke-width="1.25" stroke-linecap="butt"/>
<text x="409.40" y="453.61" font-size="8.2" text-anchor="middle" fill="#000" font-weight="bold" stroke="#000" stroke-width="0.25">16</text>
<text x="330.00" y="467.81" font-size="9.6" text-anchor="middle" fill="#000" font-weight="bold" stroke="#000" stroke-width="0.18">Days after challenge</text>
<text x="223.10" y="386.30" font-size="9.4" text-anchor="middle" font-weight="bold" stroke="#000" stroke-width="0.18" transform="rotate(-90 223.10 386.30)">Tumor volume (mm<tspan dy="-3.5" font-size="7">3</tspan><tspan dy="3.5">)</tspan></text>
<line x1="289.90" y1="422.00" x2="289.90" y2="419.40" stroke="#000" stroke-width="1.2" stroke-linecap="butt"/>
<line x1="287.50" y1="419.40" x2="292.30" y2="419.40" stroke="#000" stroke-width="1.2" stroke-linecap="butt"/>
<line x1="330.00" y1="405.10" x2="330.00" y2="401.50" stroke="#000" stroke-width="1.2" stroke-linecap="butt"/>
<line x1="327.60" y1="401.50" x2="332.40" y2="401.50" stroke="#000" stroke-width="1.2" stroke-linecap="butt"/>
<line x1="369.90" y1="370.60" x2="369.90" y2="364.90" stroke="#000" stroke-width="1.2" stroke-linecap="butt"/>
<line x1="367.50" y1="364.90" x2="372.30" y2="364.90" stroke="#000" stroke-width="1.2" stroke-linecap="butt"/>
<line x1="409.40" y1="350.30" x2="409.40" y2="342.70" stroke="#000" stroke-width="1.2" stroke-linecap="butt"/>
<line x1="407.00" y1="342.70" x2="411.80" y2="342.70" stroke="#000" stroke-width="1.2" stroke-linecap="butt"/>
<polyline points="249.90,428.90 289.90,422.00 330.00,405.10 369.90,370.60 409.40,350.30" fill="none" stroke="#000" stroke-width="1.5" stroke-linejoin="round"/>
<circle cx="249.90" cy="428.90" r="2.1" fill="#000"/>
<circle cx="289.90" cy="422.00" r="2.1" fill="#000"/>
<circle cx="330.00" cy="405.10" r="2.1" fill="#000"/>
<circle cx="369.90" cy="370.60" r="2.1" fill="#000"/>
<circle cx="409.40" cy="350.30" r="2.1" fill="#000"/>
<line x1="330.00" y1="414.20" x2="330.00" y2="411.80" stroke="#2a12f6" stroke-width="1.2" stroke-linecap="butt"/>
<line x1="327.60" y1="411.80" x2="332.40" y2="411.80" stroke="#2a12f6" stroke-width="1.2" stroke-linecap="butt"/>
<line x1="369.90" y1="392.90" x2="369.90" y2="390.10" stroke="#2a12f6" stroke-width="1.2" stroke-linecap="butt"/>
<line x1="367.50" y1="390.10" x2="372.30" y2="390.10" stroke="#2a12f6" stroke-width="1.2" stroke-linecap="butt"/>
<line x1="409.40" y1="383.60" x2="409.40" y2="380.00" stroke="#2a12f6" stroke-width="1.2" stroke-linecap="butt"/>
<line x1="407.00" y1="380.00" x2="411.80" y2="380.00" stroke="#2a12f6" stroke-width="1.2" stroke-linecap="butt"/>
<polyline points="249.90,432.80 289.90,429.60 330.00,414.20 369.90,392.90 409.40,383.60" fill="none" stroke="#2a12f6" stroke-width="1.5" stroke-linejoin="round"/>
<circle cx="249.90" cy="432.80" r="2.1" fill="#2a12f6"/>
<circle cx="289.90" cy="429.60" r="2.1" fill="#2a12f6"/>
<circle cx="330.00" cy="414.20" r="2.1" fill="#2a12f6"/>
<circle cx="369.90" cy="392.90" r="2.1" fill="#2a12f6"/>
<circle cx="409.40" cy="383.60" r="2.1" fill="#2a12f6"/>
<text x="230.00" y="324.50" font-size="22.5" text-anchor="start" fill="#000" font-weight="bold" stroke="#000" stroke-width="0.18">e</text>
<text x="256.00" y="341.20" font-size="13.2" text-anchor="start" fill="#000" font-weight="bold" stroke="#000" stroke-width="0.18">Aged WT</text>
<text x="374.00" y="341.40" font-size="13.2" text-anchor="start" fill="#000" font-weight="bold" stroke="#000" stroke-width="0.18">NCH1</text>
<line x1="253.10" y1="350.20" x2="263.30" y2="350.20" stroke="#000" stroke-width="1.4" stroke-linecap="butt"/>
<circle cx="258.20" cy="350.20" r="2.0" fill="#000"/>
<text x="268.10" y="353.80" font-size="9" text-anchor="start" fill="#000" font-weight="bold" stroke="#000" stroke-width="0.25">isotype</text>
<line x1="253.10" y1="363.00" x2="263.30" y2="363.00" stroke="#2a12f6" stroke-width="1.4" stroke-linecap="butt"/>
<circle cx="258.20" cy="363.00" r="2.0" fill="#2a12f6"/>
<text x="266.80" y="366.60" font-size="9" text-anchor="start" fill="#2a12f6" font-weight="bold" stroke="#2a12f6" stroke-width="0.25"><tspan font-family="Liberation Serif" font-weight="normal" stroke-width="0.1" style="font-size:1.18em">&#945;</tspan>PD-L2</text>
<polyline points="299.70,350.50 305.50,350.50 305.50,365.70 299.70,365.70" fill="none" stroke="#111" stroke-width="1.3"/>
<text x="306.70" y="359.30" font-size="8.3" text-anchor="start" fill="#000" font-weight="bold" stroke="#000" stroke-width="0.25">p&lt; 0.0001</text>
<line x1="43.00" y1="497.90" x2="43.00" y2="599.23" stroke="#111" stroke-width="1.25" stroke-linecap="butt"/>
<line x1="38.80" y1="598.60" x2="195.82" y2="598.60" stroke="#111" stroke-width="1.25" stroke-linecap="butt"/>
<line x1="38.80" y1="497.90" x2="43.00" y2="497.90" stroke="#111" stroke-width="1.25" stroke-linecap="butt"/>
<text x="37.20" y="501.20" font-size="9.3" text-anchor="end" fill="#000" font-weight="bold" stroke="#000" stroke-width="0.18">1500</text>
<line x1="38.80" y1="531.50" x2="43.00" y2="531.50" stroke="#111" stroke-width="1.25" stroke-linecap="butt"/>
<text x="37.20" y="534.80" font-size="9.3" text-anchor="end" fill="#000" font-weight="bold" stroke="#000" stroke-width="0.18">1000</text>
<line x1="38.80" y1="565.00" x2="43.00" y2="565.00" stroke="#111" stroke-width="1.25" stroke-linecap="butt"/>
<text x="37.20" y="568.30" font-size="9.3" text-anchor="end" fill="#000" font-weight="bold" stroke="#000" stroke-width="0.18">500</text>
<line x1="38.80" y1="598.60" x2="43.00" y2="598.60" stroke="#111" stroke-width="1.25" stroke-linecap="butt"/>
<text x="37.20" y="601.90" font-size="9.3" text-anchor="end" fill="#000" font-weight="bold" stroke="#000" stroke-width="0.18">0</text>
<line x1="43.00" y1="598.60" x2="43.00" y2="602.80" stroke="#111" stroke-width="1.25" stroke-linecap="butt"/>
<text x="43.00" y="613.20" font-size="9" text-anchor="middle" fill="#000" font-weight="bold" stroke="#000" stroke-width="0.25">7</text>
<line x1="73.40" y1="598.60" x2="73.40" y2="602.80" stroke="#111" stroke-width="1.25" stroke-linecap="butt"/>
<text x="73.40" y="613.20" font-size="9" text-anchor="middle" fill="#000" font-weight="bold" stroke="#000" stroke-width="0.25">9</text>
<line x1="103.90" y1="598.60" x2="103.90" y2="602.80" stroke="#111" stroke-width="1.25" stroke-linecap="butt"/>
<text x="103.90" y="613.20" font-size="9" text-anchor="middle" fill="#000" font-weight="bold" stroke="#000" stroke-width="0.25">11</text>
<line x1="134.40" y1="598.60" x2="134.40" y2="602.80" stroke="#111" stroke-width="1.25" stroke-linecap="butt"/>
<text x="134.40" y="613.20" font-size="9" text-anchor="middle" fill="#000" font-weight="bold" stroke="#000" stroke-width="0.25">13</text>
<line x1="164.80" y1="598.60" x2="164.80" y2="602.80" stroke="#111" stroke-width="1.25" stroke-linecap="butt"/>
<text x="164.80" y="613.20" font-size="9" text-anchor="middle" fill="#000" font-weight="bold" stroke="#000" stroke-width="0.25">15</text>
<line x1="195.20" y1="598.60" x2="195.20" y2="602.80" stroke="#111" stroke-width="1.25" stroke-linecap="butt"/>
<text x="195.20" y="613.20" font-size="9" text-anchor="middle" fill="#000" font-weight="bold" stroke="#000" stroke-width="0.25">17</text>
<text x="119.30" y="627.94" font-size="10.25" text-anchor="middle" fill="#000" font-weight="bold" stroke="#000" stroke-width="0.18">Days after challenge</text>
<text x="12.10" y="546.90" font-size="9.4" text-anchor="middle" font-weight="bold" stroke="#000" stroke-width="0.18" transform="rotate(-90 12.10 546.90)">Tumor volume (mm<tspan dy="-3.5" font-size="7">3</tspan><tspan dy="3.5">)</tspan></text>
<line x1="103.90" y1="572.30" x2="103.90" y2="569.30" stroke="#000" stroke-width="1.2" stroke-linecap="butt"/>
<line x1="101.50" y1="569.30" x2="106.30" y2="569.30" stroke="#000" stroke-width="1.2" stroke-linecap="butt"/>
<line x1="134.40" y1="562.00" x2="134.40" y2="557.40" stroke="#000" stroke-width="1.2" stroke-linecap="butt"/>
<line x1="132.00" y1="557.40" x2="136.80" y2="557.40" stroke="#000" stroke-width="1.2" stroke-linecap="butt"/>
<line x1="164.80" y1="544.10" x2="164.80" y2="537.10" stroke="#000" stroke-width="1.2" stroke-linecap="butt"/>
<line x1="162.40" y1="537.10" x2="167.20" y2="537.10" stroke="#000" stroke-width="1.2" stroke-linecap="butt"/>
<line x1="195.20" y1="515.50" x2="195.20" y2="502.50" stroke="#000" stroke-width="1.2" stroke-linecap="butt"/>
<line x1="192.80" y1="502.50" x2="197.60" y2="502.50" stroke="#000" stroke-width="1.2" stroke-linecap="butt"/>
<polyline points="43.00,590.10 73.40,581.40 103.90,572.30 134.40,562.00 164.80,544.10 195.20,515.50" fill="none" stroke="#000" stroke-width="1.1" stroke-linejoin="round"/>
<circle cx="43.00" cy="590.10" r="2.0" fill="#000"/>
<circle cx="73.40" cy="581.40" r="2.0" fill="#000"/>
<circle cx="103.90" cy="572.30" r="2.0" fill="#000"/>
<circle cx="134.40" cy="562.00" r="2.0" fill="#000"/>
<circle cx="164.80" cy="544.10" r="2.0" fill="#000"/>
<circle cx="195.20" cy="515.50" r="2.0" fill="#000"/>
<line x1="164.80" y1="561.00" x2="164.80" y2="559.10" stroke="#2a12f6" stroke-width="1.2" stroke-linecap="butt"/>
<line x1="162.40" y1="559.10" x2="167.20" y2="559.10" stroke="#2a12f6" stroke-width="1.2" stroke-linecap="butt"/>
<line x1="195.20" y1="544.90" x2="195.20" y2="535.80" stroke="#2a12f6" stroke-width="1.2" stroke-linecap="butt"/>
<line x1="192.80" y1="535.80" x2="197.60" y2="535.80" stroke="#2a12f6" stroke-width="1.2" stroke-linecap="butt"/>
<polyline points="43.00,592.30 73.40,586.20 103.90,581.40 134.40,573.40 164.80,561.00 195.20,544.90" fill="none" stroke="#2a12f6" stroke-width="1.1" stroke-linejoin="round"/>
<circle cx="43.00" cy="592.30" r="2.0" fill="#2a12f6"/>
<circle cx="73.40" cy="586.20" r="2.0" fill="#2a12f6"/>
<circle cx="103.90" cy="581.40" r="2.0" fill="#2a12f6"/>
<circle cx="134.40" cy="573.40" r="2.0" fill="#2a12f6"/>
<circle cx="164.80" cy="561.00" r="2.0" fill="#2a12f6"/>
<circle cx="195.20" cy="544.90" r="2.0" fill="#2a12f6"/>
<text x="1.00" y="485.00" font-size="22.5" text-anchor="start" fill="#000" font-weight="bold" stroke="#000" stroke-width="0.18">f</text>
<text x="51.00" y="505.80" font-size="12.1" text-anchor="start" fill="#000" font-weight="bold" stroke="#000" stroke-width="0.18">Young WT</text>
<text x="152.30" y="506.30" font-size="12.1" text-anchor="start" fill="#000" font-weight="bold" stroke="#000" stroke-width="0.18">MB49</text>
<line x1="47.90" y1="519.40" x2="59.30" y2="519.40" stroke="#000" stroke-width="1.4" stroke-linecap="butt"/>
<circle cx="53.60" cy="519.40" r="2.0" fill="#000"/>
<text x="65.40" y="523.30" font-size="9.8" text-anchor="start" fill="#000" font-weight="bold" stroke="#000" stroke-width="0.18">isotype</text>
<line x1="47.00" y1="531.50" x2="58.40" y2="531.50" stroke="#2a12f6" stroke-width="1.4" stroke-linecap="butt"/>
<circle cx="52.70" cy="531.50" r="2.0" fill="#2a12f6"/>
<text x="63.30" y="535.50" font-size="9.8" text-anchor="start" fill="#2a12f6" font-weight="bold" stroke="#2a12f6" stroke-width="0.18"><tspan font-family="Liberation Serif" font-weight="normal" stroke-width="0.1" style="font-size:1.18em">&#945;</tspan>PD-L2</text>
<polyline points="102.70,518.90 108.70,518.90 108.70,534.10 102.70,534.10" fill="none" stroke="#111" stroke-width="1.3"/>
<text x="113.10" y="528.50" font-size="9.7" text-anchor="start" fill="#000" font-weight="bold" stroke="#000" stroke-width="0.18">p=0.0009</text>
<line x1="253.80" y1="498.80" x2="253.80" y2="600.33" stroke="#111" stroke-width="1.25" stroke-linecap="butt"/>
<line x1="249.60" y1="599.70" x2="405.73" y2="599.70" stroke="#111" stroke-width="1.25" stroke-linecap="butt"/>
<line x1="248.50" y1="498.80" x2="253.80" y2="498.80" stroke="#111" stroke-width="1.25" stroke-linecap="butt"/>
<text x="246.90" y="502.17" font-size="9.5" text-anchor="end" fill="#000" font-weight="bold" stroke="#000" stroke-width="0.18">1000</text>
<line x1="248.50" y1="519.00" x2="253.80" y2="519.00" stroke="#111" stroke-width="1.25" stroke-linecap="butt"/>
<text x="246.90" y="522.37" font-size="9.5" text-anchor="end" fill="#000" font-weight="bold" stroke="#000" stroke-width="0.18">800</text>
<line x1="248.50" y1="539.20" x2="253.80" y2="539.20" stroke="#111" stroke-width="1.25" stroke-linecap="butt"/>
<text x="246.90" y="542.57" font-size="9.5" text-anchor="end" fill="#000" font-weight="bold" stroke="#000" stroke-width="0.18">600</text>
<line x1="248.50" y1="559.30" x2="253.80" y2="559.30" stroke="#111" stroke-width="1.25" stroke-linecap="butt"/>
<text x="246.90" y="562.67" font-size="9.5" text-anchor="end" fill="#000" font-weight="bold" stroke="#000" stroke-width="0.18">400</text>
<line x1="248.50" y1="579.50" x2="253.80" y2="579.50" stroke="#111" stroke-width="1.25" stroke-linecap="butt"/>
<text x="246.90" y="582.87" font-size="9.5" text-anchor="end" fill="#000" font-weight="bold" stroke="#000" stroke-width="0.18">200</text>
<line x1="248.50" y1="599.70" x2="253.80" y2="599.70" stroke="#111" stroke-width="1.25" stroke-linecap="butt"/>
<text x="246.90" y="603.07" font-size="9.5" text-anchor="end" fill="#000" font-weight="bold" stroke="#000" stroke-width="0.18">0</text>
<line x1="253.80" y1="599.70" x2="253.80" y2="605.00" stroke="#111" stroke-width="1.25" stroke-linecap="butt"/>
<text x="253.80" y="615.57" font-size="9.5" text-anchor="middle" fill="#000" font-weight="bold" stroke="#000" stroke-width="0.18">7</text>
<line x1="281.20" y1="599.70" x2="281.20" y2="605.00" stroke="#111" stroke-width="1.25" stroke-linecap="butt"/>
<text x="281.20" y="615.57" font-size="9.5" text-anchor="middle" fill="#000" font-weight="bold" stroke="#000" stroke-width="0.18">9</text>
<line x1="308.60" y1="599.70" x2="308.60" y2="605.00" stroke="#111" stroke-width="1.25" stroke-linecap="butt"/>
<text x="308.60" y="615.57" font-size="9.5" text-anchor="middle" fill="#000" font-weight="bold" stroke="#000" stroke-width="0.18">11</text>
<line x1="336.00" y1="599.70" x2="336.00" y2="605.00" stroke="#111" stroke-width="1.25" stroke-linecap="butt"/>
<text x="336.00" y="615.57" font-size="9.5" text-anchor="middle" fill="#000" font-weight="bold" stroke="#000" stroke-width="0.18">13</text>
<line x1="363.40" y1="599.70" x2="363.40" y2="605.00" stroke="#111" stroke-width="1.25" stroke-linecap="butt"/>
<text x="363.40" y="615.57" font-size="9.5" text-anchor="middle" fill="#000" font-weight="bold" stroke="#000" stroke-width="0.18">15</text>
<line x1="390.80" y1="599.70" x2="390.80" y2="605.00" stroke="#111" stroke-width="1.25" stroke-linecap="butt"/>
<text x="390.80" y="615.57" font-size="9.5" text-anchor="middle" fill="#000" font-weight="bold" stroke="#000" stroke-width="0.18">17</text>
<text x="329.50" y="630.87" font-size="10.33" text-anchor="middle" fill="#000" font-weight="bold" stroke="#000" stroke-width="0.18">Days after challenge</text>
<text x="221.27" y="547.30" font-size="9.9" text-anchor="middle" font-weight="bold" stroke="#000" stroke-width="0.18" transform="rotate(-90 221.27 547.30)">Tumor volume (mm<tspan dy="-3.5" font-size="7">3</tspan><tspan dy="3.5">)</tspan></text>
<line x1="322.30" y1="587.70" x2="322.30" y2="586.30" stroke="#000" stroke-width="1.2" stroke-linecap="butt"/>
<line x1="319.90" y1="586.30" x2="324.70" y2="586.30" stroke="#000" stroke-width="1.2" stroke-linecap="butt"/>
<line x1="349.70" y1="576.40" x2="349.70" y2="573.70" stroke="#000" stroke-width="1.2" stroke-linecap="butt"/>
<line x1="347.30" y1="573.70" x2="352.10" y2="573.70" stroke="#000" stroke-width="1.2" stroke-linecap="butt"/>
<line x1="377.10" y1="548.50" x2="377.10" y2="542.80" stroke="#000" stroke-width="1.2" stroke-linecap="butt"/>
<line x1="374.70" y1="542.80" x2="379.50" y2="542.80" stroke="#000" stroke-width="1.2" stroke-linecap="butt"/>
<line x1="404.50" y1="527.90" x2="404.50" y2="517.60" stroke="#000" stroke-width="1.2" stroke-linecap="butt"/>
<line x1="402.10" y1="517.60" x2="406.90" y2="517.60" stroke="#000" stroke-width="1.2" stroke-linecap="butt"/>
<polyline points="253.80,594.30 294.90,589.20 322.30,587.70 349.70,576.40 377.10,548.50 404.50,527.90" fill="none" stroke="#000" stroke-width="1.1" stroke-linejoin="round"/>
<circle cx="253.80" cy="594.30" r="2.0" fill="#000"/>
<circle cx="294.90" cy="589.20" r="2.0" fill="#000"/>
<circle cx="322.30" cy="587.70" r="2.0" fill="#000"/>
<circle cx="349.70" cy="576.40" r="2.0" fill="#000"/>
<circle cx="377.10" cy="548.50" r="2.0" fill="#000"/>
<circle cx="404.50" cy="527.90" r="2.0" fill="#000"/>
<line x1="377.10" y1="573.20" x2="377.10" y2="568.80" stroke="#2a12f6" stroke-width="1.2" stroke-linecap="butt"/>
<line x1="374.70" y1="568.80" x2="379.50" y2="568.80" stroke="#2a12f6" stroke-width="1.2" stroke-linecap="butt"/>
<line x1="404.50" y1="564.70" x2="404.50" y2="556.60" stroke="#2a12f6" stroke-width="1.2" stroke-linecap="butt"/>
<line x1="402.10" y1="556.60" x2="406.90" y2="556.60" stroke="#2a12f6" stroke-width="1.2" stroke-linecap="butt"/>
<polyline points="253.80,595.80 294.90,593.90 322.30,593.60 349.70,591.10 377.10,573.20 404.50,564.70" fill="none" stroke="#2a12f6" stroke-width="1.1" stroke-linejoin="round"/>
<circle cx="253.80" cy="595.80" r="2.0" fill="#2a12f6"/>
<circle cx="294.90" cy="593.90" r="2.0" fill="#2a12f6"/>
<circle cx="322.30" cy="593.60" r="2.0" fill="#2a12f6"/>
<circle cx="349.70" cy="591.10" r="2.0" fill="#2a12f6"/>
<circle cx="377.10" cy="573.20" r="2.0" fill="#2a12f6"/>
<circle cx="404.50" cy="564.70" r="2.0" fill="#2a12f6"/>
<text x="230.00" y="484.00" font-size="22.5" text-anchor="start" fill="#000" font-weight="bold" stroke="#000" stroke-width="0.18">g</text>
<text x="260.60" y="505.80" font-size="12.3" text-anchor="start" fill="#000" font-weight="bold" stroke="#000" stroke-width="0.18">Aged WT</text>
<text x="360.70" y="506.30" font-size="12.3" text-anchor="start" fill="#000" font-weight="bold" stroke="#000" stroke-width="0.18">MB49</text>
<line x1="262.60" y1="516.80" x2="273.70" y2="516.80" stroke="#000" stroke-width="1.4" stroke-linecap="butt"/>
<circle cx="268.15" cy="516.80" r="2.0" fill="#000"/>
<text x="279.60" y="519.60" font-size="8.5" text-anchor="start" fill="#000" font-weight="bold" stroke="#000" stroke-width="0.25">iso</text>
<line x1="261.90" y1="526.30" x2="273.10" y2="526.30" stroke="#2a12f6" stroke-width="1.4" stroke-linecap="butt"/>
<circle cx="267.50" cy="526.30" r="2.0" fill="#2a12f6"/>
<text x="278.40" y="529.40" font-size="8.5" text-anchor="start" fill="#2a12f6" font-weight="bold" stroke="#2a12f6" stroke-width="0.25"><tspan font-family="Liberation Serif" font-weight="normal" stroke-width="0.1" style="font-size:1.18em">&#945;</tspan>PD-L2</text>
<polyline points="310.40,514.50 316.60,514.50 316.60,529.40 310.40,529.40" fill="none" stroke="#111" stroke-width="1.3"/>
<text x="317.60" y="524.70" font-size="8.2" text-anchor="start" fill="#000" font-weight="bold" stroke="#000" stroke-width="0.25">p = 0.0002</text>
<line x1="54.80" y1="661.20" x2="54.80" y2="770.12" stroke="#111" stroke-width="1.25" stroke-linecap="butt"/>
<line x1="50.60" y1="769.50" x2="196.32" y2="769.50" stroke="#111" stroke-width="1.25" stroke-linecap="butt"/>
<line x1="50.60" y1="661.20" x2="54.80" y2="661.20" stroke="#111" stroke-width="1.25" stroke-linecap="butt"/>
<text x="49.00" y="664.43" font-size="9.1" text-anchor="end" fill="#000" font-weight="bold" stroke="#000" stroke-width="0.18">2.0×10<tspan dy="-3.6" font-size="6.5">7</tspan></text>
<line x1="50.60" y1="688.30" x2="54.80" y2="688.30" stroke="#111" stroke-width="1.25" stroke-linecap="butt"/>
<text x="49.00" y="691.53" font-size="9.1" text-anchor="end" fill="#000" font-weight="bold" stroke="#000" stroke-width="0.18">1.5×10<tspan dy="-3.6" font-size="6.5">7</tspan></text>
<line x1="50.60" y1="715.40" x2="54.80" y2="715.40" stroke="#111" stroke-width="1.25" stroke-linecap="butt"/>
<text x="49.00" y="718.63" font-size="9.1" text-anchor="end" fill="#000" font-weight="bold" stroke="#000" stroke-width="0.18">1.0×10<tspan dy="-3.6" font-size="6.5">7</tspan></text>
<line x1="50.60" y1="742.40" x2="54.80" y2="742.40" stroke="#111" stroke-width="1.25" stroke-linecap="butt"/>
<text x="49.00" y="745.63" font-size="9.1" text-anchor="end" fill="#000" font-weight="bold" stroke="#000" stroke-width="0.18">5.0×10<tspan dy="-3.6" font-size="6.5">6</tspan></text>
<line x1="50.60" y1="769.50" x2="54.80" y2="769.50" stroke="#111" stroke-width="1.25" stroke-linecap="butt"/>
<text x="49.00" y="772.73" font-size="9.1" text-anchor="end" fill="#000" font-weight="bold" stroke="#000" stroke-width="0.18">0.0</text>
<line x1="54.80" y1="769.50" x2="54.80" y2="773.70" stroke="#111" stroke-width="1.25" stroke-linecap="butt"/>
<text x="54.80" y="784.37" font-size="9.2" text-anchor="middle" fill="#000" font-weight="bold" stroke="#000" stroke-width="0.18">7</text>
<line x1="102.20" y1="769.50" x2="102.20" y2="773.70" stroke="#111" stroke-width="1.25" stroke-linecap="butt"/>
<text x="102.20" y="784.37" font-size="9.2" text-anchor="middle" fill="#000" font-weight="bold" stroke="#000" stroke-width="0.18">14</text>
<line x1="149.00" y1="769.50" x2="149.00" y2="773.70" stroke="#111" stroke-width="1.25" stroke-linecap="butt"/>
<text x="149.00" y="784.37" font-size="9.2" text-anchor="middle" fill="#000" font-weight="bold" stroke="#000" stroke-width="0.18">21</text>
<line x1="195.70" y1="769.50" x2="195.70" y2="773.70" stroke="#111" stroke-width="1.25" stroke-linecap="butt"/>
<text x="195.70" y="784.37" font-size="9.2" text-anchor="middle" fill="#000" font-weight="bold" stroke="#000" stroke-width="0.18">28</text>
<text x="125.20" y="796.76" font-size="8.9" text-anchor="middle" fill="#000" font-weight="bold" stroke="#000" stroke-width="0.25">Days after challenge</text>
<text x="11.20" y="712.00" font-size="8.8" text-anchor="middle" font-weight="bold" stroke="#000" stroke-width="0.18" transform="rotate(-90 11.20 712.00)">Avg Radiance (p/s/cm<tspan dy="-3" font-size="6">2</tspan><tspan dy="3">/sr)</tspan></text>
<line x1="195.70" y1="743.80" x2="195.70" y2="736.40" stroke="#000" stroke-width="1.2" stroke-linecap="butt"/>
<line x1="193.30" y1="736.40" x2="198.10" y2="736.40" stroke="#000" stroke-width="1.2" stroke-linecap="butt"/>
<polyline points="54.80,765.50 102.20,766.30 149.00,758.50 195.70,743.80" fill="none" stroke="#000" stroke-width="1.3" stroke-linejoin="round"/>
<circle cx="54.80" cy="765.50" r="2.1" fill="#000"/>
<circle cx="102.20" cy="766.30" r="2.1" fill="#000"/>
<circle cx="149.00" cy="758.50" r="2.1" fill="#000"/>
<circle cx="195.70" cy="743.80" r="2.1" fill="#000"/>
<line x1="102.20" y1="762.50" x2="102.20" y2="759.70" stroke="#2a12f6" stroke-width="1.2" stroke-linecap="butt"/>
<line x1="99.80" y1="759.70" x2="104.60" y2="759.70" stroke="#2a12f6" stroke-width="1.2" stroke-linecap="butt"/>
<line x1="149.00" y1="756.20" x2="149.00" y2="752.00" stroke="#2a12f6" stroke-width="1.2" stroke-linecap="butt"/>
<line x1="146.60" y1="752.00" x2="151.40" y2="752.00" stroke="#2a12f6" stroke-width="1.2" stroke-linecap="butt"/>
<line x1="195.70" y1="728.90" x2="195.70" y2="714.00" stroke="#2a12f6" stroke-width="1.2" stroke-linecap="butt"/>
<line x1="193.30" y1="714.00" x2="198.10" y2="714.00" stroke="#2a12f6" stroke-width="1.2" stroke-linecap="butt"/>
<polyline points="54.80,764.40 102.20,762.50 149.00,756.20 195.70,728.90" fill="none" stroke="#2a12f6" stroke-width="1.6" stroke-linejoin="round"/>
<circle cx="54.80" cy="764.40" r="2.1" fill="#2a12f6"/>
<circle cx="102.20" cy="762.50" r="2.1" fill="#2a12f6"/>
<circle cx="149.00" cy="756.20" r="2.1" fill="#2a12f6"/>
<circle cx="195.70" cy="728.90" r="2.1" fill="#2a12f6"/>
<text x="1.90" y="650.40" font-size="22.5" text-anchor="start" fill="#000" font-weight="bold" stroke="#000" stroke-width="0.18">p</text>
<text x="56.00" y="665.30" font-size="12.45" text-anchor="start" fill="#000" font-weight="bold" stroke="#000" stroke-width="0.18">Young WT</text>
<text x="150.20" y="665.30" font-size="12.45" text-anchor="start" fill="#222" font-weight="bold" stroke="#222" stroke-width="0.18">ID8agg</text>
<line x1="63.70" y1="676.20" x2="74.40" y2="676.20" stroke="#000" stroke-width="1.4" stroke-linecap="butt"/>
<circle cx="69.05" cy="676.20" r="2.0" fill="#000"/>
<text x="79.20" y="679.70" font-size="9" text-anchor="start" fill="#000" font-weight="bold" stroke="#000" stroke-width="0.25">isotype</text>
<line x1="62.80" y1="686.90" x2="73.80" y2="686.90" stroke="#2a12f6" stroke-width="1.4" stroke-linecap="butt"/>
<circle cx="68.30" cy="686.90" r="2.0" fill="#2a12f6"/>
<text x="78.10" y="690.10" font-size="9" text-anchor="start" fill="#2a12f6" font-weight="bold" stroke="#2a12f6" stroke-width="0.25"><tspan font-family="Liberation Serif" font-weight="normal" stroke-width="0.1" style="font-size:1.18em">&#945;</tspan>PD-L2</text>
<polyline points="112.60,675.40 118.30,675.40 118.30,689.30 112.60,689.30" fill="none" stroke="#111" stroke-width="1.3"/>
<text x="118.90" y="683.40" font-size="8.9" text-anchor="start" fill="#000" font-weight="bold" stroke="#000" stroke-width="0.25">p= 0.60</text>
<line x1="262.00" y1="662.00" x2="262.00" y2="768.83" stroke="#111" stroke-width="1.25" stroke-linecap="butt"/>
<line x1="257.80" y1="768.20" x2="408.73" y2="768.20" stroke="#111" stroke-width="1.25" stroke-linecap="butt"/>
<line x1="257.80" y1="662.00" x2="262.00" y2="662.00" stroke="#111" stroke-width="1.25" stroke-linecap="butt"/>
<text x="256.20" y="665.37" font-size="9.5" text-anchor="end" fill="#000" font-weight="bold" stroke="#000" stroke-width="0.18">2.0×10<tspan dy="-3.6" font-size="6.5">7</tspan></text>
<line x1="257.80" y1="688.50" x2="262.00" y2="688.50" stroke="#111" stroke-width="1.25" stroke-linecap="butt"/>
<text x="256.20" y="691.87" font-size="9.5" text-anchor="end" fill="#000" font-weight="bold" stroke="#000" stroke-width="0.18">1.5×10<tspan dy="-3.6" font-size="6.5">7</tspan></text>
<line x1="257.80" y1="715.10" x2="262.00" y2="715.10" stroke="#111" stroke-width="1.25" stroke-linecap="butt"/>
<text x="256.20" y="718.47" font-size="9.5" text-anchor="end" fill="#000" font-weight="bold" stroke="#000" stroke-width="0.18">1.0×10<tspan dy="-3.6" font-size="6.5">7</tspan></text>
<line x1="257.80" y1="741.60" x2="262.00" y2="741.60" stroke="#111" stroke-width="1.25" stroke-linecap="butt"/>
<text x="256.20" y="744.97" font-size="9.5" text-anchor="end" fill="#000" font-weight="bold" stroke="#000" stroke-width="0.18">5.0×10<tspan dy="-3.6" font-size="6.5">6</tspan></text>
<line x1="257.80" y1="768.20" x2="262.00" y2="768.20" stroke="#111" stroke-width="1.25" stroke-linecap="butt"/>
<text x="256.20" y="771.57" font-size="9.5" text-anchor="end" fill="#000" font-weight="bold" stroke="#000" stroke-width="0.18">0.0</text>
<line x1="262.00" y1="768.20" x2="262.00" y2="772.40" stroke="#111" stroke-width="1.25" stroke-linecap="butt"/>
<text x="262.00" y="781.44" font-size="9.4" text-anchor="middle" fill="#000" font-weight="bold" stroke="#000" stroke-width="0.18">7</text>
<line x1="310.80" y1="768.20" x2="310.80" y2="772.40" stroke="#111" stroke-width="1.25" stroke-linecap="butt"/>
<text x="310.80" y="781.44" font-size="9.4" text-anchor="middle" fill="#000" font-weight="bold" stroke="#000" stroke-width="0.18">14</text>
<line x1="359.20" y1="768.20" x2="359.20" y2="772.40" stroke="#111" stroke-width="1.25" stroke-linecap="butt"/>
<text x="359.20" y="781.44" font-size="9.4" text-anchor="middle" fill="#000" font-weight="bold" stroke="#000" stroke-width="0.18">21</text>
<line x1="408.10" y1="768.20" x2="408.10" y2="772.40" stroke="#111" stroke-width="1.25" stroke-linecap="butt"/>
<text x="408.10" y="781.44" font-size="9.4" text-anchor="middle" fill="#000" font-weight="bold" stroke="#000" stroke-width="0.18">28</text>
<text x="335.20" y="795.10" font-size="9.3" text-anchor="middle" fill="#000" font-weight="bold" stroke="#000" stroke-width="0.18">Days after challenge</text>
<text x="221.14" y="712.00" font-size="9.2" text-anchor="middle" font-weight="bold" stroke="#000" stroke-width="0.18" transform="rotate(-90 221.14 712.00)">Avg Radiance (p/s/cm<tspan dy="-3" font-size="6">2</tspan><tspan dy="3">/sr)</tspan></text>
<line x1="262.00" y1="759.00" x2="262.00" y2="757.00" stroke="#2a12f6" stroke-width="1.2" stroke-linecap="butt"/>
<line x1="259.60" y1="757.00" x2="264.40" y2="757.00" stroke="#2a12f6" stroke-width="1.2" stroke-linecap="butt"/>
<line x1="359.50" y1="725.50" x2="359.50" y2="712.30" stroke="#2a12f6" stroke-width="1.2" stroke-linecap="butt"/>
<line x1="357.10" y1="712.30" x2="361.90" y2="712.30" stroke="#2a12f6" stroke-width="1.2" stroke-linecap="butt"/>
<line x1="408.10" y1="705.60" x2="408.10" y2="692.50" stroke="#2a12f6" stroke-width="1.2" stroke-linecap="butt"/>
<line x1="405.70" y1="692.50" x2="410.50" y2="692.50" stroke="#2a12f6" stroke-width="1.2" stroke-linecap="butt"/>
<polyline points="262.00,759.00 310.80,749.60 359.50,725.50 408.10,705.60" fill="none" stroke="#2a12f6" stroke-width="1.5" stroke-linejoin="round"/>
<circle cx="262.00" cy="759.00" r="2.1" fill="#2a12f6"/>
<circle cx="310.80" cy="749.60" r="2.1" fill="#2a12f6"/>
<circle cx="359.50" cy="725.50" r="2.1" fill="#2a12f6"/>
<circle cx="408.10" cy="705.60" r="2.1" fill="#2a12f6"/>
<line x1="310.80" y1="745.80" x2="310.80" y2="742.60" stroke="#000" stroke-width="1.2" stroke-linecap="butt"/>
<line x1="308.40" y1="742.60" x2="313.20" y2="742.60" stroke="#000" stroke-width="1.2" stroke-linecap="butt"/>
<line x1="359.50" y1="732.90" x2="359.50" y2="725.30" stroke="#000" stroke-width="1.2" stroke-linecap="butt"/>
<line x1="357.10" y1="725.30" x2="361.90" y2="725.30" stroke="#000" stroke-width="1.2" stroke-linecap="butt"/>
<line x1="408.10" y1="692.50" x2="408.10" y2="677.70" stroke="#000" stroke-width="1.2" stroke-linecap="butt"/>
<line x1="405.70" y1="677.70" x2="410.50" y2="677.70" stroke="#000" stroke-width="1.2" stroke-linecap="butt"/>
<polyline points="262.00,760.70 310.80,745.80 359.50,732.90 408.10,692.50" fill="none" stroke="#000" stroke-width="1.3" stroke-linejoin="round"/>
<circle cx="262.00" cy="760.70" r="2.1" fill="#000"/>
<circle cx="310.80" cy="745.80" r="2.1" fill="#000"/>
<circle cx="359.50" cy="732.90" r="2.1" fill="#000"/>
<circle cx="408.10" cy="692.50" r="2.1" fill="#000"/>
<text x="230.40" y="650.40" font-size="22.5" text-anchor="start" fill="#000" font-weight="bold" stroke="#000" stroke-width="0.18">q</text>
<text x="267.80" y="666.40" font-size="13.2" text-anchor="start" fill="#000" font-weight="bold" stroke="#000" stroke-width="0.18">Aged WT</text>
<text x="358.30" y="666.40" font-size="13.2" text-anchor="start" fill="#222" font-weight="bold" stroke="#222" stroke-width="0.18">ID8agg</text>
<line x1="268.70" y1="676.50" x2="279.10" y2="676.50" stroke="#000" stroke-width="1.4" stroke-linecap="butt"/>
<circle cx="273.90" cy="676.50" r="2.0" fill="#000"/>
<text x="284.20" y="680.20" font-size="9.5" text-anchor="start" fill="#000" font-weight="bold" stroke="#000" stroke-width="0.18">isotype</text>
<line x1="267.50" y1="687.30" x2="278.30" y2="687.30" stroke="#2a12f6" stroke-width="1.4" stroke-linecap="butt"/>
<circle cx="272.90" cy="687.30" r="2.0" fill="#2a12f6"/>
<text x="283.40" y="690.50" font-size="9.5" text-anchor="start" fill="#2a12f6" font-weight="bold" stroke="#2a12f6" stroke-width="0.18"><tspan font-family="Liberation Serif" font-weight="normal" stroke-width="0.1" style="font-size:1.18em">&#945;</tspan>PD-L2</text>
<polyline points="321.20,675.40 326.00,675.40 326.00,689.80 321.20,689.80" fill="none" stroke="#111" stroke-width="1.3"/>
<text x="329.20" y="684.00" font-size="9.3" text-anchor="start" fill="#000" font-weight="bold" stroke="#000" stroke-width="0.18">p= 0.80</text>
<line x1="488.20" y1="665.40" x2="488.20" y2="766.12" stroke="#111" stroke-width="1.25" stroke-linecap="butt"/>
<line x1="484.00" y1="765.50" x2="632.92" y2="765.50" stroke="#111" stroke-width="1.25" stroke-linecap="butt"/>
<line x1="484.00" y1="665.40" x2="488.20" y2="665.40" stroke="#111" stroke-width="1.25" stroke-linecap="butt"/>
<text x="482.40" y="668.81" font-size="9.6" text-anchor="end" fill="#000" font-weight="bold" stroke="#000" stroke-width="0.18">2.0×10<tspan dy="-3.6" font-size="6.5">7</tspan></text>
<line x1="484.00" y1="690.40" x2="488.20" y2="690.40" stroke="#111" stroke-width="1.25" stroke-linecap="butt"/>
<text x="482.40" y="693.81" font-size="9.6" text-anchor="end" fill="#000" font-weight="bold" stroke="#000" stroke-width="0.18">1.5×10<tspan dy="-3.6" font-size="6.5">7</tspan></text>
<line x1="484.00" y1="715.40" x2="488.20" y2="715.40" stroke="#111" stroke-width="1.25" stroke-linecap="butt"/>
<text x="482.40" y="718.81" font-size="9.6" text-anchor="end" fill="#000" font-weight="bold" stroke="#000" stroke-width="0.18">1.0×10<tspan dy="-3.6" font-size="6.5">7</tspan></text>
<line x1="484.00" y1="740.40" x2="488.20" y2="740.40" stroke="#111" stroke-width="1.25" stroke-linecap="butt"/>
<text x="482.40" y="743.81" font-size="9.6" text-anchor="end" fill="#000" font-weight="bold" stroke="#000" stroke-width="0.18">5.0×10<tspan dy="-3.6" font-size="6.5">6</tspan></text>
<line x1="484.00" y1="765.50" x2="488.20" y2="765.50" stroke="#111" stroke-width="1.25" stroke-linecap="butt"/>
<text x="482.40" y="768.91" font-size="9.6" text-anchor="end" fill="#000" font-weight="bold" stroke="#000" stroke-width="0.18">0.0</text>
<line x1="488.20" y1="765.50" x2="488.20" y2="769.70" stroke="#111" stroke-width="1.25" stroke-linecap="butt"/>
<text x="488.20" y="780.94" font-size="9.4" text-anchor="middle" fill="#000" font-weight="bold" stroke="#000" stroke-width="0.18">7</text>
<line x1="536.10" y1="765.50" x2="536.10" y2="769.70" stroke="#111" stroke-width="1.25" stroke-linecap="butt"/>
<text x="536.10" y="780.94" font-size="9.4" text-anchor="middle" fill="#000" font-weight="bold" stroke="#000" stroke-width="0.18">14</text>
<line x1="584.40" y1="765.50" x2="584.40" y2="769.70" stroke="#111" stroke-width="1.25" stroke-linecap="butt"/>
<text x="584.40" y="780.94" font-size="9.4" text-anchor="middle" fill="#000" font-weight="bold" stroke="#000" stroke-width="0.18">21</text>
<line x1="632.30" y1="765.50" x2="632.30" y2="769.70" stroke="#111" stroke-width="1.25" stroke-linecap="butt"/>
<text x="632.30" y="780.94" font-size="9.4" text-anchor="middle" fill="#000" font-weight="bold" stroke="#000" stroke-width="0.18">28</text>
<text x="560.40" y="796.17" font-size="9.5" text-anchor="middle" fill="#000" font-weight="bold" stroke="#000" stroke-width="0.18">Days after challenge</text>
<text x="445.57" y="713.90" font-size="9.3" text-anchor="middle" font-weight="bold" stroke="#000" stroke-width="0.18" transform="rotate(-90 445.57 713.90)">Avg Radiance (p/s/cm<tspan dy="-3" font-size="6">2</tspan><tspan dy="3">/sr)</tspan></text>
<line x1="584.40" y1="755.40" x2="584.40" y2="752.60" stroke="#000" stroke-width="1.2" stroke-linecap="butt"/>
<line x1="582.00" y1="752.60" x2="586.80" y2="752.60" stroke="#000" stroke-width="1.2" stroke-linecap="butt"/>
<line x1="632.30" y1="741.90" x2="632.30" y2="735.50" stroke="#000" stroke-width="1.2" stroke-linecap="butt"/>
<line x1="629.90" y1="735.50" x2="634.70" y2="735.50" stroke="#000" stroke-width="1.2" stroke-linecap="butt"/>
<polyline points="488.20,762.40 536.10,762.90 584.40,755.40 632.30,741.90" fill="none" stroke="#000" stroke-width="1.2" stroke-linejoin="round"/>
<circle cx="488.20" cy="762.40" r="2.0" fill="#000"/>
<circle cx="536.10" cy="762.90" r="2.0" fill="#000"/>
<circle cx="584.40" cy="755.40" r="2.0" fill="#000"/>
<circle cx="632.30" cy="741.90" r="2.0" fill="#000"/>
<line x1="536.10" y1="744.20" x2="536.10" y2="741.90" stroke="#b02a24" stroke-width="1.2" stroke-linecap="butt"/>
<line x1="533.70" y1="741.90" x2="538.50" y2="741.90" stroke="#b02a24" stroke-width="1.2" stroke-linecap="butt"/>
<line x1="584.40" y1="732.50" x2="584.40" y2="725.50" stroke="#b02a24" stroke-width="1.2" stroke-linecap="butt"/>
<line x1="582.00" y1="725.50" x2="586.80" y2="725.50" stroke="#b02a24" stroke-width="1.2" stroke-linecap="butt"/>
<line x1="632.30" y1="694.20" x2="632.30" y2="679.40" stroke="#b02a24" stroke-width="1.2" stroke-linecap="butt"/>
<line x1="629.90" y1="679.40" x2="634.70" y2="679.40" stroke="#b02a24" stroke-width="1.2" stroke-linecap="butt"/>
<polyline points="488.20,758.40 536.10,744.20 584.40,732.50 632.30,694.20" fill="none" stroke="#b02a24" stroke-width="1.2" stroke-linejoin="round"/>
<circle cx="488.20" cy="758.40" r="2.0" fill="#b02a24"/>
<circle cx="536.10" cy="744.20" r="2.0" fill="#b02a24"/>
<circle cx="584.40" cy="732.50" r="2.0" fill="#b02a24"/>
<circle cx="632.30" cy="694.20" r="2.0" fill="#b02a24"/>
<text x="433.00" y="650.00" font-size="22.5" text-anchor="start" fill="#000" font-weight="bold" stroke="#000" stroke-width="0.18">r</text>
<text x="587.50" y="673.10" font-size="13.7" text-anchor="start" fill="#222" font-weight="bold" stroke="#222" stroke-width="0.18">ID8agg</text>
<line x1="490.00" y1="684.90" x2="500.40" y2="684.90" stroke="#000" stroke-width="1.4" stroke-linecap="butt"/>
<circle cx="495.20" cy="684.90" r="2.0" fill="#000"/>
<text x="506.50" y="688.50" font-size="8.7" text-anchor="start" fill="#000" font-weight="bold" stroke="#000" stroke-width="0.25">Young WT isotype</text>
<line x1="490.00" y1="700.30" x2="500.40" y2="700.30" stroke="#b02a24" stroke-width="1.4" stroke-linecap="butt"/>
<circle cx="495.20" cy="700.30" r="2.0" fill="#b02a24"/>
<text x="506.50" y="703.70" font-size="8.7" text-anchor="start" fill="#000" font-weight="bold" stroke="#000" stroke-width="0.25">Aged WT isotype</text>
<polyline points="584.60,686.70 590.20,686.70 590.20,702.10 584.60,702.10" fill="none" stroke="#111" stroke-width="1.3"/>
<text x="591.30" y="696.90" font-size="8.2" text-anchor="start" fill="#000" font-weight="bold" stroke="#000" stroke-width="0.25">p= 0.0009</text>
<line x1="279.75" y1="34.50" x2="279.75" y2="123.20" stroke="#111" stroke-width="1.2" stroke-linecap="butt"/>
<line x1="279.15" y1="122.60" x2="373.91" y2="122.60" stroke="#111" stroke-width="1.2" stroke-linecap="butt"/>
<line x1="276.25" y1="34.70" x2="279.35" y2="34.70" stroke="#111" stroke-width="1.2" stroke-linecap="butt"/>
<text x="275.15" y="37.04" font-size="6.5" text-anchor="end" fill="#222" font-weight="bold" stroke="#222" stroke-width="0.12">5</text>
<line x1="276.25" y1="52.20" x2="279.35" y2="52.20" stroke="#111" stroke-width="1.2" stroke-linecap="butt"/>
<text x="275.15" y="54.54" font-size="6.5" text-anchor="end" fill="#222" font-weight="bold" stroke="#222" stroke-width="0.12">4</text>
<line x1="276.25" y1="69.60" x2="279.35" y2="69.60" stroke="#111" stroke-width="1.2" stroke-linecap="butt"/>
<text x="275.15" y="71.94" font-size="6.5" text-anchor="end" fill="#222" font-weight="bold" stroke="#222" stroke-width="0.12">3</text>
<line x1="276.25" y1="87.10" x2="279.35" y2="87.10" stroke="#111" stroke-width="1.2" stroke-linecap="butt"/>
<text x="275.15" y="89.44" font-size="6.5" text-anchor="end" fill="#222" font-weight="bold" stroke="#222" stroke-width="0.12">2</text>
<line x1="276.25" y1="104.80" x2="279.35" y2="104.80" stroke="#111" stroke-width="1.2" stroke-linecap="butt"/>
<text x="275.15" y="107.14" font-size="6.5" text-anchor="end" fill="#222" font-weight="bold" stroke="#222" stroke-width="0.12">1</text>
<line x1="276.25" y1="122.50" x2="279.35" y2="122.50" stroke="#111" stroke-width="1.2" stroke-linecap="butt"/>
<text x="275.15" y="124.84" font-size="6.5" text-anchor="end" fill="#222" font-weight="bold" stroke="#222" stroke-width="0.12">0</text>
<line x1="302.09" y1="122.60" x2="302.09" y2="126.10" stroke="#444" stroke-width="0.9" stroke-linecap="butt"/>
<line x1="352.45" y1="122.60" x2="352.45" y2="126.10" stroke="#444" stroke-width="0.9" stroke-linecap="butt"/>
<rect x="287.02" y="102.16" width="11.15" height="20.44" fill="#fff" stroke="#000" stroke-width="1.6"/>
<rect x="305.71" y="99.53" width="11.30" height="23.07" fill="#fff" stroke="#2a12f6" stroke-width="1.8"/>
<rect x="337.82" y="90.48" width="10.57" height="32.12" fill="#fff" stroke="#000" stroke-width="1.6"/>
<rect x="356.07" y="92.67" width="11.01" height="29.93" fill="#fff" stroke="#2a12f6" stroke-width="1.8"/>
<circle cx="288.22" cy="84.93" r="1.7" fill="#000"/>
<circle cx="296.98" cy="87.12" r="1.7" fill="#000"/>
<circle cx="287.93" cy="90.48" r="1.7" fill="#000"/>
<circle cx="296.98" cy="91.94" r="1.7" fill="#000"/>
<circle cx="292.60" cy="103.18" r="1.7" fill="#000"/>
<circle cx="287.93" cy="109.02" r="1.7" fill="#000"/>
<circle cx="296.98" cy="109.75" r="1.7" fill="#000"/>
<circle cx="292.60" cy="109.75" r="1.7" fill="#000"/>
<circle cx="292.60" cy="113.40" r="1.7" fill="#000"/>
<circle cx="292.60" cy="118.22" r="1.7" fill="#000"/>
<circle cx="311.58" cy="63.77" r="1.7" fill="#2a12f6"/>
<circle cx="311.58" cy="74.42" r="1.7" fill="#2a12f6"/>
<circle cx="315.96" cy="99.24" r="1.7" fill="#2a12f6"/>
<circle cx="306.91" cy="100.99" r="1.7" fill="#2a12f6"/>
<circle cx="315.96" cy="103.18" r="1.7" fill="#2a12f6"/>
<circle cx="311.58" cy="111.94" r="1.7" fill="#2a12f6"/>
<circle cx="306.91" cy="118.51" r="1.7" fill="#2a12f6"/>
<circle cx="316.25" cy="119.24" r="1.7" fill="#2a12f6"/>
<circle cx="306.47" cy="106.83" r="1.7" fill="#2a12f6"/>
<circle cx="316.25" cy="106.83" r="1.7" fill="#2a12f6"/>
<circle cx="342.96" cy="54.57" r="1.7" fill="#000"/>
<circle cx="342.96" cy="70.63" r="1.7" fill="#000"/>
<circle cx="342.96" cy="78.36" r="1.7" fill="#000"/>
<circle cx="342.96" cy="87.85" r="1.7" fill="#000"/>
<circle cx="342.96" cy="95.45" r="1.7" fill="#000"/>
<circle cx="338.58" cy="100.26" r="1.7" fill="#000"/>
<circle cx="347.34" cy="101.72" r="1.7" fill="#000"/>
<circle cx="342.23" cy="102.45" r="1.7" fill="#000"/>
<circle cx="346.61" cy="103.91" r="1.7" fill="#000"/>
<circle cx="342.96" cy="107.56" r="1.7" fill="#000"/>
<circle cx="361.50" cy="70.34" r="1.7" fill="#2a12f6"/>
<circle cx="361.50" cy="80.26" r="1.7" fill="#2a12f6"/>
<circle cx="356.83" cy="92.96" r="1.7" fill="#2a12f6"/>
<circle cx="366.32" cy="93.40" r="1.7" fill="#2a12f6"/>
<circle cx="357.56" cy="98.07" r="1.7" fill="#2a12f6"/>
<circle cx="365.59" cy="96.61" r="1.7" fill="#2a12f6"/>
<circle cx="356.83" cy="100.99" r="1.7" fill="#2a12f6"/>
<circle cx="366.32" cy="102.45" r="1.7" fill="#2a12f6"/>
<circle cx="356.83" cy="106.10" r="1.7" fill="#2a12f6"/>
<line x1="292.60" y1="97.34" x2="292.60" y2="106.83" stroke="#000" stroke-width="0.9" stroke-linecap="butt"/>
<line x1="290.30" y1="97.34" x2="294.90" y2="97.34" stroke="#000" stroke-width="0.9" stroke-linecap="butt"/>
<line x1="290.30" y1="106.83" x2="294.90" y2="106.83" stroke="#000" stroke-width="0.9" stroke-linecap="butt"/>
<line x1="311.36" y1="94.42" x2="311.36" y2="104.64" stroke="#2a12f6" stroke-width="0.9" stroke-linecap="butt"/>
<line x1="309.06" y1="94.42" x2="313.66" y2="94.42" stroke="#2a12f6" stroke-width="0.9" stroke-linecap="butt"/>
<line x1="309.06" y1="104.64" x2="313.66" y2="104.64" stroke="#2a12f6" stroke-width="0.9" stroke-linecap="butt"/>
<line x1="343.11" y1="84.20" x2="343.11" y2="95.88" stroke="#000" stroke-width="0.9" stroke-linecap="butt"/>
<line x1="340.81" y1="84.20" x2="345.41" y2="84.20" stroke="#000" stroke-width="0.9" stroke-linecap="butt"/>
<line x1="340.81" y1="95.88" x2="345.41" y2="95.88" stroke="#000" stroke-width="0.9" stroke-linecap="butt"/>
<line x1="361.58" y1="89.31" x2="361.58" y2="95.88" stroke="#2a12f6" stroke-width="0.9" stroke-linecap="butt"/>
<line x1="359.28" y1="89.31" x2="363.88" y2="89.31" stroke="#2a12f6" stroke-width="0.9" stroke-linecap="butt"/>
<line x1="359.28" y1="95.88" x2="363.88" y2="95.88" stroke="#2a12f6" stroke-width="0.9" stroke-linecap="butt"/>
<text x="300.60" y="135.90" font-size="9.3" text-anchor="middle" fill="#000" font-weight="bold" stroke="#000" stroke-width="0.18">Aged</text>
<text x="300.60" y="146.10" font-size="9.3" text-anchor="middle" fill="#000" font-weight="bold" stroke="#000" stroke-width="0.18">WT</text>
<text x="351.00" y="135.90" font-size="9.3" text-anchor="middle" fill="#000" font-weight="bold" stroke="#000" stroke-width="0.18">Young</text>
<text x="351.00" y="146.10" font-size="9.3" text-anchor="middle" fill="#000" font-weight="bold" stroke="#000" stroke-width="0.18">WT</text>
<text x="282.80" y="19.00" font-size="8.6" text-anchor="start" fill="#000" font-weight="bold" stroke="#000" stroke-width="0.25">isotype <tspan fill="#2a12f6" stroke="#2a12f6"><tspan font-family="Liberation Serif" font-weight="normal" stroke-width="0.1" style="font-size:1.18em">&#945;</tspan><tspan>PD-L2</tspan></tspan></text>
<text x="283.10" y="32.30" font-size="8.1" text-anchor="start" fill="#000" font-weight="bold" stroke="#000" stroke-width="0.25">p= 0.11,</text>
<text x="318.80" y="32.30" font-size="8.1" text-anchor="start" fill="#2a12f6" font-weight="bold" stroke="#2a12f6" stroke-width="0.25">p= 0.31</text>
<text x="289.70" y="57.20" font-size="8.1" text-anchor="start" fill="#000" font-weight="bold" stroke="#000" stroke-width="0.25">p= 0.84</text>
<text x="339.60" y="45.50" font-size="8.1" text-anchor="start" fill="#000" font-weight="bold" stroke="#000" stroke-width="0.25">p= 0.68</text>
<line x1="286.30" y1="36.80" x2="359.00" y2="36.80" stroke="#111" stroke-width="1.3" stroke-linecap="butt"/>
<line x1="295.80" y1="59.80" x2="309.80" y2="59.80" stroke="#111" stroke-width="1.3" stroke-linecap="butt"/>
<line x1="345.20" y1="48.10" x2="359.00" y2="48.10" stroke="#111" stroke-width="1.3" stroke-linecap="butt"/>
<text x="266.19" y="78.80" font-size="10.8" text-anchor="middle" font-weight="bold" stroke="#000" stroke-width="0.18" transform="rotate(-90 266.19 78.80)">% IFN<tspan font-family="Liberation Serif" font-weight="normal" font-size="10.8" dy="1">&#947;</tspan><tspan dy="-4" font-size="7.56">+</tspan><tspan dy="3"> in CD45</tspan><tspan dy="-3" font-size="7.56">+</tspan></text>
<text x="230.20" y="17.00" font-size="22" text-anchor="start" fill="#000" font-weight="bold" stroke="#000" stroke-width="0.18">h</text>
<line x1="454.67" y1="42.50" x2="454.67" y2="124.87" stroke="#111" stroke-width="1.2" stroke-linecap="butt"/>
<line x1="454.07" y1="124.27" x2="541.24" y2="124.27" stroke="#111" stroke-width="1.2" stroke-linecap="butt"/>
<line x1="451.17" y1="42.50" x2="454.27" y2="42.50" stroke="#111" stroke-width="1.2" stroke-linecap="butt"/>
<text x="450.07" y="44.84" font-size="6.5" text-anchor="end" fill="#222" font-weight="bold" stroke="#222" stroke-width="0.12">4000</text>
<line x1="451.17" y1="63.40" x2="454.27" y2="63.40" stroke="#111" stroke-width="1.2" stroke-linecap="butt"/>
<text x="450.07" y="65.74" font-size="6.5" text-anchor="end" fill="#222" font-weight="bold" stroke="#222" stroke-width="0.12">3000</text>
<line x1="451.17" y1="83.40" x2="454.27" y2="83.40" stroke="#111" stroke-width="1.2" stroke-linecap="butt"/>
<text x="450.07" y="85.74" font-size="6.5" text-anchor="end" fill="#222" font-weight="bold" stroke="#222" stroke-width="0.12">2000</text>
<line x1="451.17" y1="104.30" x2="454.27" y2="104.30" stroke="#111" stroke-width="1.2" stroke-linecap="butt"/>
<text x="450.07" y="106.64" font-size="6.5" text-anchor="end" fill="#222" font-weight="bold" stroke="#222" stroke-width="0.12">1000</text>
<line x1="451.17" y1="124.30" x2="454.27" y2="124.30" stroke="#111" stroke-width="1.2" stroke-linecap="butt"/>
<text x="450.07" y="126.64" font-size="6.5" text-anchor="end" fill="#222" font-weight="bold" stroke="#222" stroke-width="0.12">0</text>
<line x1="474.53" y1="124.27" x2="474.53" y2="127.77" stroke="#444" stroke-width="0.9" stroke-linecap="butt"/>
<line x1="521.53" y1="124.27" x2="521.53" y2="127.77" stroke="#444" stroke-width="0.9" stroke-linecap="butt"/>
<rect x="461.21" y="107.04" width="9.69" height="17.23" fill="#fff" stroke="#000" stroke-width="1.6"/>
<rect x="478.44" y="104.27" width="9.55" height="20.00" fill="#fff" stroke="#2a12f6" stroke-width="1.8"/>
<rect x="507.93" y="60.04" width="9.26" height="64.23" fill="#fff" stroke="#000" stroke-width="1.6"/>
<rect x="525.15" y="63.83" width="9.26" height="60.44" fill="#fff" stroke="#2a12f6" stroke-width="1.8"/>
<circle cx="461.68" cy="102.37" r="1.7" fill="#000"/>
<circle cx="464.60" cy="100.91" r="1.7" fill="#000"/>
<circle cx="468.25" cy="101.64" r="1.7" fill="#000"/>
<circle cx="470.44" cy="101.20" r="1.7" fill="#000"/>
<circle cx="462.41" cy="104.56" r="1.7" fill="#000"/>
<circle cx="466.06" cy="103.83" r="1.7" fill="#000"/>
<circle cx="469.71" cy="105.00" r="1.7" fill="#000"/>
<circle cx="463.14" cy="107.48" r="1.7" fill="#000"/>
<circle cx="467.52" cy="108.94" r="1.7" fill="#000"/>
<circle cx="463.87" cy="112.59" r="1.7" fill="#000"/>
<circle cx="468.98" cy="111.13" r="1.7" fill="#000"/>
<circle cx="482.85" cy="100.18" r="1.7" fill="#2a12f6"/>
<circle cx="479.93" cy="102.37" r="1.7" fill="#2a12f6"/>
<circle cx="485.04" cy="102.37" r="1.7" fill="#2a12f6"/>
<circle cx="487.23" cy="104.56" r="1.7" fill="#2a12f6"/>
<circle cx="479.20" cy="105.29" r="1.7" fill="#2a12f6"/>
<circle cx="483.58" cy="106.02" r="1.7" fill="#2a12f6"/>
<circle cx="487.66" cy="107.48" r="1.7" fill="#2a12f6"/>
<circle cx="480.66" cy="108.21" r="1.7" fill="#2a12f6"/>
<circle cx="485.04" cy="108.94" r="1.7" fill="#2a12f6"/>
<circle cx="510.88" cy="51.57" r="1.7" fill="#000"/>
<circle cx="507.96" cy="54.20" r="1.7" fill="#000"/>
<circle cx="512.19" cy="55.51" r="1.7" fill="#000"/>
<circle cx="513.80" cy="55.51" r="1.7" fill="#000"/>
<circle cx="510.88" cy="57.26" r="1.7" fill="#000"/>
<circle cx="507.66" cy="60.47" r="1.7" fill="#000"/>
<circle cx="511.17" cy="60.04" r="1.7" fill="#000"/>
<circle cx="515.84" cy="60.04" r="1.7" fill="#000"/>
<circle cx="511.17" cy="64.71" r="1.7" fill="#000"/>
<circle cx="513.21" cy="65.44" r="1.7" fill="#000"/>
<circle cx="509.85" cy="64.12" r="1.7" fill="#000"/>
<circle cx="525.18" cy="63.25" r="1.7" fill="#2a12f6"/>
<circle cx="527.08" cy="62.96" r="1.7" fill="#2a12f6"/>
<circle cx="528.98" cy="62.81" r="1.7" fill="#2a12f6"/>
<circle cx="530.88" cy="62.96" r="1.7" fill="#2a12f6"/>
<circle cx="532.77" cy="63.25" r="1.7" fill="#2a12f6"/>
<circle cx="534.38" cy="63.83" r="1.7" fill="#2a12f6"/>
<circle cx="525.91" cy="64.42" r="1.7" fill="#2a12f6"/>
<circle cx="528.10" cy="64.12" r="1.7" fill="#2a12f6"/>
<circle cx="530.29" cy="64.42" r="1.7" fill="#2a12f6"/>
<circle cx="532.48" cy="64.71" r="1.7" fill="#2a12f6"/>
<circle cx="534.38" cy="65.00" r="1.7" fill="#2a12f6"/>
<circle cx="528.83" cy="65.29" r="1.7" fill="#2a12f6"/>
<circle cx="531.02" cy="65.58" r="1.7" fill="#2a12f6"/>
<line x1="466.06" y1="105.29" x2="466.06" y2="108.94" stroke="#000" stroke-width="0.9" stroke-linecap="butt"/>
<line x1="463.76" y1="105.29" x2="468.36" y2="105.29" stroke="#000" stroke-width="0.9" stroke-linecap="butt"/>
<line x1="463.76" y1="108.94" x2="468.36" y2="108.94" stroke="#000" stroke-width="0.9" stroke-linecap="butt"/>
<line x1="483.21" y1="102.37" x2="483.21" y2="106.02" stroke="#2a12f6" stroke-width="0.9" stroke-linecap="butt"/>
<line x1="480.91" y1="102.37" x2="485.51" y2="102.37" stroke="#2a12f6" stroke-width="0.9" stroke-linecap="butt"/>
<line x1="480.91" y1="106.02" x2="485.51" y2="106.02" stroke="#2a12f6" stroke-width="0.9" stroke-linecap="butt"/>
<line x1="512.55" y1="58.28" x2="512.55" y2="61.79" stroke="#000" stroke-width="0.9" stroke-linecap="butt"/>
<line x1="510.25" y1="58.28" x2="514.85" y2="58.28" stroke="#000" stroke-width="0.9" stroke-linecap="butt"/>
<line x1="510.25" y1="61.79" x2="514.85" y2="61.79" stroke="#000" stroke-width="0.9" stroke-linecap="butt"/>
<line x1="529.78" y1="62.96" x2="529.78" y2="64.71" stroke="#2a12f6" stroke-width="0.9" stroke-linecap="butt"/>
<line x1="527.48" y1="62.96" x2="532.08" y2="62.96" stroke="#2a12f6" stroke-width="0.9" stroke-linecap="butt"/>
<line x1="527.48" y1="64.71" x2="532.08" y2="64.71" stroke="#2a12f6" stroke-width="0.9" stroke-linecap="butt"/>
<text x="473.40" y="137.10" font-size="8.4" text-anchor="middle" fill="#000" font-weight="bold" stroke="#000" stroke-width="0.25">Aged</text>
<text x="473.40" y="147.10" font-size="8.4" text-anchor="middle" fill="#000" font-weight="bold" stroke="#000" stroke-width="0.25">WT</text>
<text x="520.00" y="137.10" font-size="8.4" text-anchor="middle" fill="#000" font-weight="bold" stroke="#000" stroke-width="0.25">Young</text>
<text x="520.00" y="147.10" font-size="8.4" text-anchor="middle" fill="#000" font-weight="bold" stroke="#000" stroke-width="0.25">WT</text>
<text x="457.10" y="21.00" font-size="7.85" text-anchor="start" fill="#000" font-weight="bold" stroke="#000" stroke-width="0.25">isotype <tspan fill="#2a12f6" stroke="#2a12f6"><tspan font-family="Liberation Serif" font-weight="normal" stroke-width="0.1" style="font-size:1.18em">&#945;</tspan><tspan>PD-L2</tspan></tspan></text>
<text x="457.00" y="33.80" font-size="7.7" text-anchor="start" fill="#000" font-weight="bold" stroke="#000" stroke-width="0.25">p&lt; 0.0001,</text>
<text x="496.00" y="33.80" font-size="7.4" text-anchor="start" fill="#2a12f6" font-weight="bold" stroke="#2a12f6" stroke-width="0.25">p&lt; 0.0001</text>
<text x="509.10" y="45.40" font-size="7.6" text-anchor="start" fill="#000" font-weight="bold" stroke="#000" stroke-width="0.25">p= 0.0023</text>
<text x="463.10" y="92.40" font-size="7.6" text-anchor="start" fill="#000" font-weight="bold" stroke="#000" stroke-width="0.25">p= 0.40</text>
<line x1="460.20" y1="37.40" x2="527.70" y2="37.40" stroke="#111" stroke-width="1.3" stroke-linecap="butt"/>
<line x1="514.20" y1="48.40" x2="527.40" y2="48.40" stroke="#111" stroke-width="1.3" stroke-linecap="butt"/>
<line x1="469.00" y1="94.80" x2="481.40" y2="94.80" stroke="#111" stroke-width="1.3" stroke-linecap="butt"/>
<text x="431.67" y="85.60" font-size="10.2" text-anchor="middle" font-weight="bold" stroke="#000" stroke-width="0.18" transform="rotate(-90 431.67 85.60)">MFI IFN<tspan font-family="Liberation Serif" font-weight="normal" font-size="10.2" dy="1">&#947;</tspan><tspan dy="-1"> in CD45</tspan><tspan dy="-3" font-size="7.139999999999999">+</tspan></text>
<text x="434.50" y="16.50" font-size="22" text-anchor="start" fill="#000" font-weight="bold" stroke="#000" stroke-width="0.18">i</text>
<line x1="588.21" y1="33.90" x2="588.21" y2="122.79" stroke="#111" stroke-width="1.2" stroke-linecap="butt"/>
<line x1="587.61" y1="122.19" x2="681.35" y2="122.19" stroke="#111" stroke-width="1.2" stroke-linecap="butt"/>
<line x1="584.71" y1="33.90" x2="587.81" y2="33.90" stroke="#111" stroke-width="1.2" stroke-linecap="butt"/>
<text x="583.61" y="36.46" font-size="7.1" text-anchor="end" fill="#222" font-weight="bold" stroke="#222" stroke-width="0.12">0.5</text>
<line x1="584.71" y1="51.40" x2="587.81" y2="51.40" stroke="#111" stroke-width="1.2" stroke-linecap="butt"/>
<text x="583.61" y="53.96" font-size="7.1" text-anchor="end" fill="#222" font-weight="bold" stroke="#222" stroke-width="0.12">0.4</text>
<line x1="584.71" y1="69.60" x2="587.81" y2="69.60" stroke="#111" stroke-width="1.2" stroke-linecap="butt"/>
<text x="583.61" y="72.16" font-size="7.1" text-anchor="end" fill="#222" font-weight="bold" stroke="#222" stroke-width="0.12">0.3</text>
<line x1="584.71" y1="87.20" x2="587.81" y2="87.20" stroke="#111" stroke-width="1.2" stroke-linecap="butt"/>
<text x="583.61" y="89.76" font-size="7.1" text-anchor="end" fill="#222" font-weight="bold" stroke="#222" stroke-width="0.12">0.2</text>
<line x1="584.71" y1="104.40" x2="587.81" y2="104.40" stroke="#111" stroke-width="1.2" stroke-linecap="butt"/>
<text x="583.61" y="106.96" font-size="7.1" text-anchor="end" fill="#222" font-weight="bold" stroke="#222" stroke-width="0.12">0.1</text>
<line x1="584.71" y1="122.20" x2="587.81" y2="122.20" stroke="#111" stroke-width="1.2" stroke-linecap="butt"/>
<text x="583.61" y="124.76" font-size="7.1" text-anchor="end" fill="#222" font-weight="bold" stroke="#222" stroke-width="0.12">0.0</text>
<line x1="610.55" y1="122.19" x2="610.55" y2="125.69" stroke="#444" stroke-width="0.9" stroke-linecap="butt"/>
<line x1="660.18" y1="122.19" x2="660.18" y2="125.69" stroke="#444" stroke-width="0.9" stroke-linecap="butt"/>
<rect x="595.92" y="90.51" width="10.28" height="31.68" fill="#fff" stroke="#000" stroke-width="1.6"/>
<rect x="614.46" y="86.13" width="10.42" height="36.06" fill="#fff" stroke="#2a12f6" stroke-width="1.8"/>
<rect x="646.28" y="121.75" width="9.55" height="0.44" fill="#fff" stroke="#000" stroke-width="1.6"/>
<rect x="665.26" y="121.75" width="9.55" height="0.44" fill="#fff" stroke="#2a12f6" stroke-width="1.8"/>
<circle cx="598.43" cy="51.82" r="1.7" fill="#000"/>
<circle cx="603.25" cy="50.36" r="1.7" fill="#000"/>
<circle cx="601.06" cy="89.78" r="1.7" fill="#000"/>
<circle cx="596.39" cy="95.91" r="1.7" fill="#000"/>
<circle cx="605.44" cy="92.26" r="1.7" fill="#000"/>
<circle cx="600.77" cy="95.91" r="1.7" fill="#000"/>
<circle cx="601.06" cy="99.56" r="1.7" fill="#000"/>
<circle cx="596.68" cy="106.13" r="1.7" fill="#000"/>
<circle cx="600.77" cy="106.86" r="1.7" fill="#000"/>
<circle cx="605.44" cy="109.34" r="1.7" fill="#000"/>
<circle cx="596.39" cy="109.78" r="1.7" fill="#000"/>
<circle cx="614.93" cy="48.18" r="1.7" fill="#2a12f6"/>
<circle cx="624.12" cy="49.49" r="1.7" fill="#2a12f6"/>
<circle cx="619.60" cy="55.77" r="1.7" fill="#2a12f6"/>
<circle cx="614.93" cy="91.53" r="1.7" fill="#2a12f6"/>
<circle cx="624.12" cy="92.99" r="1.7" fill="#2a12f6"/>
<circle cx="614.93" cy="98.83" r="1.7" fill="#2a12f6"/>
<circle cx="624.12" cy="100.00" r="1.7" fill="#2a12f6"/>
<circle cx="614.93" cy="102.92" r="1.7" fill="#2a12f6"/>
<circle cx="624.12" cy="106.13" r="1.7" fill="#2a12f6"/>
<circle cx="619.60" cy="111.24" r="1.7" fill="#2a12f6"/>
<circle cx="646.31" cy="122.19" r="1.7" fill="#000"/>
<circle cx="648.07" cy="122.19" r="1.7" fill="#000"/>
<circle cx="649.82" cy="122.19" r="1.7" fill="#000"/>
<circle cx="651.57" cy="122.19" r="1.7" fill="#000"/>
<circle cx="653.32" cy="122.19" r="1.7" fill="#000"/>
<circle cx="655.07" cy="122.19" r="1.7" fill="#000"/>
<circle cx="656.53" cy="122.19" r="1.7" fill="#000"/>
<circle cx="665.00" cy="122.19" r="1.7" fill="#2a12f6"/>
<circle cx="666.75" cy="122.19" r="1.7" fill="#2a12f6"/>
<circle cx="668.50" cy="122.19" r="1.7" fill="#2a12f6"/>
<circle cx="670.26" cy="122.19" r="1.7" fill="#2a12f6"/>
<circle cx="672.01" cy="122.19" r="1.7" fill="#2a12f6"/>
<circle cx="673.76" cy="122.19" r="1.7" fill="#2a12f6"/>
<circle cx="675.22" cy="122.19" r="1.7" fill="#2a12f6"/>
<line x1="601.06" y1="83.21" x2="601.06" y2="97.37" stroke="#000" stroke-width="0.9" stroke-linecap="butt"/>
<line x1="598.76" y1="83.21" x2="603.36" y2="83.21" stroke="#000" stroke-width="0.9" stroke-linecap="butt"/>
<line x1="598.76" y1="97.37" x2="603.36" y2="97.37" stroke="#000" stroke-width="0.9" stroke-linecap="butt"/>
<line x1="619.67" y1="77.66" x2="619.67" y2="94.45" stroke="#2a12f6" stroke-width="0.9" stroke-linecap="butt"/>
<line x1="617.37" y1="77.66" x2="621.97" y2="77.66" stroke="#2a12f6" stroke-width="0.9" stroke-linecap="butt"/>
<line x1="617.37" y1="94.45" x2="621.97" y2="94.45" stroke="#2a12f6" stroke-width="0.9" stroke-linecap="butt"/>
<text x="609.00" y="136.30" font-size="9.1" text-anchor="middle" fill="#000" font-weight="bold" stroke="#000" stroke-width="0.18">Aged</text>
<text x="609.00" y="146.80" font-size="9.1" text-anchor="middle" fill="#000" font-weight="bold" stroke="#000" stroke-width="0.18">WT</text>
<text x="659.50" y="136.30" font-size="9.1" text-anchor="middle" fill="#000" font-weight="bold" stroke="#000" stroke-width="0.18">Young</text>
<text x="659.50" y="146.80" font-size="9.1" text-anchor="middle" fill="#000" font-weight="bold" stroke="#000" stroke-width="0.18">WT</text>
<text x="591.00" y="14.50" font-size="9.288" text-anchor="start" fill="#000" font-weight="bold" stroke="#000" stroke-width="0.18">isotype <tspan fill="#2a12f6" stroke="#2a12f6"><tspan font-family="Liberation Serif" font-weight="normal" stroke-width="0.1" style="font-size:1.18em">&#945;</tspan><tspan>PD-L2</tspan></tspan></text>
<text x="590.80" y="29.00" font-size="8.32" text-anchor="start" fill="#000" font-weight="bold" stroke="#000" stroke-width="0.25">p= 0.0007,</text>
<text x="633.20" y="29.00" font-size="7.99" text-anchor="start" fill="#2a12f6" font-weight="bold" stroke="#2a12f6" stroke-width="0.25">p= 0.0003</text>
<text x="597.80" y="41.90" font-size="8.21" text-anchor="start" fill="#000" font-weight="bold" stroke="#000" stroke-width="0.25">p= 0.66</text>
<text x="647.80" y="112.70" font-size="8.21" text-anchor="start" fill="#000" font-weight="bold" stroke="#000" stroke-width="0.25">p= 0.17</text>
<line x1="594.50" y1="32.40" x2="667.50" y2="32.40" stroke="#111" stroke-width="1.3" stroke-linecap="butt"/>
<line x1="604.00" y1="44.10" x2="618.30" y2="44.10" stroke="#111" stroke-width="1.3" stroke-linecap="butt"/>
<line x1="653.30" y1="116.00" x2="667.00" y2="116.00" stroke="#111" stroke-width="1.3" stroke-linecap="butt"/>
<text x="569.07" y="81.70" font-size="10.2" text-anchor="middle" font-weight="bold" stroke="#000" stroke-width="0.18" transform="rotate(-90 569.07 81.70)">% IFN<tspan font-family="Liberation Serif" font-weight="normal" font-size="10.2" dy="1">&#947;</tspan><tspan dy="-4" font-size="7.139999999999999">+</tspan><tspan dy="3"> in CD4</tspan><tspan dy="-3" font-size="7.139999999999999">+</tspan></text>
<text x="553.00" y="16.50" font-size="22" text-anchor="start" fill="#000" font-weight="bold" stroke="#000" stroke-width="0.18">j</text>
<line x1="455.65" y1="195.40" x2="455.65" y2="281.88" stroke="#888" stroke-width="1.2" stroke-linecap="butt"/>
<line x1="455.05" y1="281.28" x2="546.89" y2="281.28" stroke="#111" stroke-width="1.2" stroke-linecap="butt"/>
<line x1="452.15" y1="195.40" x2="455.25" y2="195.40" stroke="#111" stroke-width="1.2" stroke-linecap="butt"/>
<text x="451.05" y="197.74" font-size="6.5" text-anchor="end" fill="#222" font-weight="bold" stroke="#222" stroke-width="0.12">1500</text>
<line x1="452.15" y1="224.30" x2="455.25" y2="224.30" stroke="#111" stroke-width="1.2" stroke-linecap="butt"/>
<text x="451.05" y="226.64" font-size="6.5" text-anchor="end" fill="#222" font-weight="bold" stroke="#222" stroke-width="0.12">1000</text>
<line x1="452.15" y1="252.80" x2="455.25" y2="252.80" stroke="#111" stroke-width="1.2" stroke-linecap="butt"/>
<text x="451.05" y="255.14" font-size="6.5" text-anchor="end" fill="#222" font-weight="bold" stroke="#222" stroke-width="0.12">500</text>
<line x1="452.15" y1="281.30" x2="455.25" y2="281.30" stroke="#111" stroke-width="1.2" stroke-linecap="butt"/>
<text x="451.05" y="283.64" font-size="6.5" text-anchor="end" fill="#222" font-weight="bold" stroke="#222" stroke-width="0.12">0</text>
<line x1="477.55" y1="281.28" x2="477.55" y2="284.78" stroke="#444" stroke-width="0.9" stroke-linecap="butt"/>
<line x1="526.45" y1="281.28" x2="526.45" y2="284.78" stroke="#444" stroke-width="0.9" stroke-linecap="butt"/>
<rect x="462.92" y="252.08" width="10.57" height="29.20" fill="#fff" stroke="#000" stroke-width="1.6"/>
<rect x="481.17" y="240.26" width="10.57" height="41.02" fill="#fff" stroke="#2a12f6" stroke-width="1.8"/>
<rect x="512.26" y="252.37" width="10.28" height="28.91" fill="#fff" stroke="#000" stroke-width="1.6"/>
<rect x="530.07" y="253.10" width="10.57" height="28.18" fill="#fff" stroke="#2a12f6" stroke-width="1.8"/>
<circle cx="468.35" cy="223.18" r="1.7" fill="#000"/>
<circle cx="463.68" cy="234.12" r="1.7" fill="#000"/>
<circle cx="472.73" cy="235.58" r="1.7" fill="#000"/>
<circle cx="468.35" cy="240.69" r="1.7" fill="#000"/>
<circle cx="468.35" cy="246.53" r="1.7" fill="#000"/>
<circle cx="468.35" cy="251.64" r="1.7" fill="#000"/>
<circle cx="468.35" cy="263.32" r="1.7" fill="#000"/>
<circle cx="463.68" cy="270.62" r="1.7" fill="#000"/>
<circle cx="472.73" cy="270.62" r="1.7" fill="#000"/>
<circle cx="468.35" cy="281.28" r="1.7" fill="#000"/>
<circle cx="481.93" cy="210.77" r="1.7" fill="#2a12f6"/>
<circle cx="491.12" cy="207.41" r="1.7" fill="#2a12f6"/>
<circle cx="486.60" cy="228.72" r="1.7" fill="#2a12f6"/>
<circle cx="481.93" cy="234.12" r="1.7" fill="#2a12f6"/>
<circle cx="491.12" cy="237.04" r="1.7" fill="#2a12f6"/>
<circle cx="486.60" cy="241.42" r="1.7" fill="#2a12f6"/>
<circle cx="486.60" cy="246.53" r="1.7" fill="#2a12f6"/>
<circle cx="486.60" cy="251.64" r="1.7" fill="#2a12f6"/>
<circle cx="486.60" cy="257.77" r="1.7" fill="#2a12f6"/>
<circle cx="486.60" cy="281.57" r="1.7" fill="#2a12f6"/>
<circle cx="517.40" cy="226.09" r="1.7" fill="#000"/>
<circle cx="517.40" cy="238.94" r="1.7" fill="#000"/>
<circle cx="517.40" cy="245.07" r="1.7" fill="#000"/>
<circle cx="513.02" cy="253.83" r="1.7" fill="#000"/>
<circle cx="521.78" cy="253.83" r="1.7" fill="#000"/>
<circle cx="517.40" cy="254.56" r="1.7" fill="#000"/>
<circle cx="513.02" cy="258.21" r="1.7" fill="#000"/>
<circle cx="521.78" cy="258.94" r="1.7" fill="#000"/>
<circle cx="517.40" cy="265.22" r="1.7" fill="#000"/>
<circle cx="517.40" cy="271.06" r="1.7" fill="#000"/>
<circle cx="535.50" cy="227.55" r="1.7" fill="#2a12f6"/>
<circle cx="535.50" cy="240.40" r="1.7" fill="#2a12f6"/>
<circle cx="533.02" cy="247.26" r="1.7" fill="#2a12f6"/>
<circle cx="535.50" cy="250.18" r="1.7" fill="#2a12f6"/>
<circle cx="530.83" cy="258.94" r="1.7" fill="#2a12f6"/>
<circle cx="539.59" cy="258.94" r="1.7" fill="#2a12f6"/>
<circle cx="533.02" cy="262.30" r="1.7" fill="#2a12f6"/>
<circle cx="539.59" cy="263.32" r="1.7" fill="#2a12f6"/>
<circle cx="535.50" cy="262.59" r="1.7" fill="#2a12f6"/>
<line x1="468.20" y1="246.09" x2="468.20" y2="257.48" stroke="#000" stroke-width="0.9" stroke-linecap="butt"/>
<line x1="465.90" y1="246.09" x2="470.50" y2="246.09" stroke="#000" stroke-width="0.9" stroke-linecap="butt"/>
<line x1="465.90" y1="257.48" x2="470.50" y2="257.48" stroke="#000" stroke-width="0.9" stroke-linecap="butt"/>
<line x1="486.45" y1="232.66" x2="486.45" y2="246.53" stroke="#2a12f6" stroke-width="0.9" stroke-linecap="butt"/>
<line x1="484.15" y1="232.66" x2="488.75" y2="232.66" stroke="#2a12f6" stroke-width="0.9" stroke-linecap="butt"/>
<line x1="484.15" y1="246.53" x2="488.75" y2="246.53" stroke="#2a12f6" stroke-width="0.9" stroke-linecap="butt"/>
<line x1="517.40" y1="248.43" x2="517.40" y2="256.75" stroke="#000" stroke-width="0.9" stroke-linecap="butt"/>
<line x1="515.10" y1="248.43" x2="519.70" y2="248.43" stroke="#000" stroke-width="0.9" stroke-linecap="butt"/>
<line x1="515.10" y1="256.75" x2="519.70" y2="256.75" stroke="#000" stroke-width="0.9" stroke-linecap="butt"/>
<line x1="535.36" y1="249.45" x2="535.36" y2="256.75" stroke="#2a12f6" stroke-width="0.9" stroke-linecap="butt"/>
<line x1="533.06" y1="249.45" x2="537.66" y2="249.45" stroke="#2a12f6" stroke-width="0.9" stroke-linecap="butt"/>
<line x1="533.06" y1="256.75" x2="537.66" y2="256.75" stroke="#2a12f6" stroke-width="0.9" stroke-linecap="butt"/>
<text x="475.90" y="294.80" font-size="9.1" text-anchor="middle" fill="#000" font-weight="bold" stroke="#000" stroke-width="0.18">Aged</text>
<text x="475.90" y="305.10" font-size="9.1" text-anchor="middle" fill="#000" font-weight="bold" stroke="#000" stroke-width="0.18">WT</text>
<text x="524.80" y="294.80" font-size="9.1" text-anchor="middle" fill="#000" font-weight="bold" stroke="#000" stroke-width="0.18">Young</text>
<text x="524.80" y="305.10" font-size="9.1" text-anchor="middle" fill="#000" font-weight="bold" stroke="#000" stroke-width="0.18">WT</text>
<text x="458.60" y="173.50" font-size="8.3" text-anchor="start" fill="#000" font-weight="bold" stroke="#000" stroke-width="0.25">isotype <tspan fill="#2a12f6" stroke="#2a12f6"><tspan font-family="Liberation Serif" font-weight="normal" stroke-width="0.1" style="font-size:1.18em">&#945;</tspan><tspan>PD-L2</tspan></tspan></text>
<text x="459.00" y="186.40" font-size="7.7" text-anchor="start" fill="#000" font-weight="bold" stroke="#000" stroke-width="0.25">p= 0.91,</text>
<text x="504.30" y="186.40" font-size="7.4" text-anchor="start" fill="#2a12f6" font-weight="bold" stroke="#2a12f6" stroke-width="0.25">p= 0.11</text>
<text x="465.90" y="202.70" font-size="7.6" text-anchor="start" fill="#000" font-weight="bold" stroke="#000" stroke-width="0.25">p= 0.21</text>
<text x="514.00" y="218.50" font-size="7.6" text-anchor="start" fill="#000" font-weight="bold" stroke="#000" stroke-width="0.25">p= 0.97</text>
<line x1="462.20" y1="189.90" x2="532.70" y2="189.90" stroke="#111" stroke-width="1.3" stroke-linecap="butt"/>
<line x1="471.40" y1="205.70" x2="484.80" y2="205.70" stroke="#111" stroke-width="1.3" stroke-linecap="butt"/>
<line x1="519.20" y1="221.40" x2="533.00" y2="221.40" stroke="#111" stroke-width="1.3" stroke-linecap="butt"/>
<text x="431.67" y="238.00" font-size="10.2" text-anchor="middle" font-weight="bold" stroke="#000" stroke-width="0.18" transform="rotate(-90 431.67 238.00)">MFI IFN<tspan font-family="Liberation Serif" font-weight="normal" font-size="10.2" dy="1">&#947;</tspan><tspan dy="-1"> in CD4</tspan><tspan dy="-3" font-size="7.139999999999999">+</tspan></text>
<text x="434.10" y="171.50" font-size="22" text-anchor="start" fill="#000" font-weight="bold" stroke="#000" stroke-width="0.18">k</text>
<line x1="588.21" y1="192.00" x2="588.21" y2="281.33" stroke="#111" stroke-width="1.2" stroke-linecap="butt"/>
<line x1="587.61" y1="280.73" x2="681.35" y2="280.73" stroke="#777" stroke-width="1.2" stroke-linecap="butt"/>
<line x1="584.71" y1="192.00" x2="587.81" y2="192.00" stroke="#111" stroke-width="1.2" stroke-linecap="butt"/>
<text x="583.61" y="194.56" font-size="7.1" text-anchor="end" fill="#222" font-weight="bold" stroke="#222" stroke-width="0.12">1.0</text>
<line x1="584.71" y1="209.90" x2="587.81" y2="209.90" stroke="#111" stroke-width="1.2" stroke-linecap="butt"/>
<text x="583.61" y="212.46" font-size="7.1" text-anchor="end" fill="#222" font-weight="bold" stroke="#222" stroke-width="0.12">0.8</text>
<line x1="584.71" y1="227.40" x2="587.81" y2="227.40" stroke="#111" stroke-width="1.2" stroke-linecap="butt"/>
<text x="583.61" y="229.96" font-size="7.1" text-anchor="end" fill="#222" font-weight="bold" stroke="#222" stroke-width="0.12">0.6</text>
<line x1="584.71" y1="245.40" x2="587.81" y2="245.40" stroke="#111" stroke-width="1.2" stroke-linecap="butt"/>
<text x="583.61" y="247.96" font-size="7.1" text-anchor="end" fill="#222" font-weight="bold" stroke="#222" stroke-width="0.12">0.4</text>
<line x1="584.71" y1="263.20" x2="587.81" y2="263.20" stroke="#111" stroke-width="1.2" stroke-linecap="butt"/>
<text x="583.61" y="265.76" font-size="7.1" text-anchor="end" fill="#222" font-weight="bold" stroke="#222" stroke-width="0.12">0.2</text>
<line x1="584.71" y1="280.70" x2="587.81" y2="280.70" stroke="#111" stroke-width="1.2" stroke-linecap="butt"/>
<text x="583.61" y="283.26" font-size="7.1" text-anchor="end" fill="#222" font-weight="bold" stroke="#222" stroke-width="0.12">0.0</text>
<line x1="610.99" y1="280.73" x2="610.99" y2="284.23" stroke="#444" stroke-width="0.9" stroke-linecap="butt"/>
<line x1="660.91" y1="280.73" x2="660.91" y2="284.23" stroke="#444" stroke-width="0.9" stroke-linecap="butt"/>
<rect x="596.21" y="245.99" width="10.28" height="34.74" fill="#fff" stroke="#000" stroke-width="1.6"/>
<rect x="614.90" y="255.91" width="10.57" height="24.82" fill="#fff" stroke="#2a12f6" stroke-width="1.8"/>
<rect x="646.28" y="280.44" width="10.28" height="0.29" fill="#fff" stroke="#000" stroke-width="1.6"/>
<rect x="665.26" y="273.14" width="10.57" height="7.59" fill="#fff" stroke="#2a12f6" stroke-width="1.8"/>
<circle cx="601.35" cy="211.09" r="1.7" fill="#000"/>
<circle cx="601.35" cy="223.07" r="1.7" fill="#000"/>
<circle cx="601.35" cy="227.01" r="1.7" fill="#000"/>
<circle cx="601.35" cy="244.23" r="1.7" fill="#000"/>
<circle cx="596.68" cy="250.07" r="1.7" fill="#000"/>
<circle cx="605.73" cy="250.80" r="1.7" fill="#000"/>
<circle cx="601.35" cy="259.56" r="1.7" fill="#000"/>
<circle cx="596.68" cy="268.32" r="1.7" fill="#000"/>
<circle cx="605.73" cy="266.13" r="1.7" fill="#000"/>
<circle cx="601.35" cy="250.07" r="1.7" fill="#000"/>
<circle cx="620.04" cy="227.45" r="1.7" fill="#2a12f6"/>
<circle cx="620.04" cy="244.96" r="1.7" fill="#2a12f6"/>
<circle cx="620.04" cy="250.36" r="1.7" fill="#2a12f6"/>
<circle cx="620.04" cy="255.18" r="1.7" fill="#2a12f6"/>
<circle cx="620.04" cy="260.29" r="1.7" fill="#2a12f6"/>
<circle cx="615.66" cy="266.13" r="1.7" fill="#2a12f6"/>
<circle cx="624.42" cy="268.32" r="1.7" fill="#2a12f6"/>
<circle cx="615.66" cy="271.68" r="1.7" fill="#2a12f6"/>
<circle cx="651.86" cy="275.62" r="1.7" fill="#000"/>
<circle cx="647.77" cy="278.10" r="1.7" fill="#000"/>
<circle cx="654.34" cy="279.27" r="1.7" fill="#000"/>
<circle cx="650.69" cy="280.00" r="1.7" fill="#000"/>
<circle cx="656.53" cy="280.00" r="1.7" fill="#000"/>
<circle cx="646.31" cy="280.00" r="1.7" fill="#000"/>
<circle cx="649.23" cy="279.56" r="1.7" fill="#000"/>
<circle cx="652.88" cy="280.15" r="1.7" fill="#000"/>
<circle cx="670.40" cy="261.46" r="1.7" fill="#2a12f6"/>
<circle cx="668.94" cy="263.94" r="1.7" fill="#2a12f6"/>
<circle cx="671.13" cy="266.86" r="1.7" fill="#2a12f6"/>
<circle cx="668.94" cy="271.24" r="1.7" fill="#2a12f6"/>
<circle cx="673.32" cy="273.43" r="1.7" fill="#2a12f6"/>
<circle cx="666.75" cy="275.62" r="1.7" fill="#2a12f6"/>
<circle cx="672.59" cy="276.35" r="1.7" fill="#2a12f6"/>
<circle cx="668.94" cy="278.54" r="1.7" fill="#2a12f6"/>
<circle cx="675.51" cy="279.27" r="1.7" fill="#2a12f6"/>
<line x1="601.35" y1="239.42" x2="601.35" y2="252.55" stroke="#000" stroke-width="0.9" stroke-linecap="butt"/>
<line x1="599.05" y1="239.42" x2="603.65" y2="239.42" stroke="#000" stroke-width="0.9" stroke-linecap="butt"/>
<line x1="599.05" y1="252.55" x2="603.65" y2="252.55" stroke="#000" stroke-width="0.9" stroke-linecap="butt"/>
<line x1="620.18" y1="250.07" x2="620.18" y2="261.75" stroke="#2a12f6" stroke-width="0.9" stroke-linecap="butt"/>
<line x1="617.88" y1="250.07" x2="622.48" y2="250.07" stroke="#2a12f6" stroke-width="0.9" stroke-linecap="butt"/>
<line x1="617.88" y1="261.75" x2="622.48" y2="261.75" stroke="#2a12f6" stroke-width="0.9" stroke-linecap="butt"/>
<line x1="670.55" y1="270.51" x2="670.55" y2="275.62" stroke="#2a12f6" stroke-width="0.9" stroke-linecap="butt"/>
<line x1="668.25" y1="270.51" x2="672.85" y2="270.51" stroke="#2a12f6" stroke-width="0.9" stroke-linecap="butt"/>
<line x1="668.25" y1="275.62" x2="672.85" y2="275.62" stroke="#2a12f6" stroke-width="0.9" stroke-linecap="butt"/>
<text x="609.00" y="294.80" font-size="9.1" text-anchor="middle" fill="#000" font-weight="bold" stroke="#000" stroke-width="0.18">Aged</text>
<text x="609.00" y="305.30" font-size="9.1" text-anchor="middle" fill="#000" font-weight="bold" stroke="#000" stroke-width="0.18">WT</text>
<text x="659.50" y="294.80" font-size="9.1" text-anchor="middle" fill="#000" font-weight="bold" stroke="#000" stroke-width="0.18">Young</text>
<text x="659.50" y="305.30" font-size="9.1" text-anchor="middle" fill="#000" font-weight="bold" stroke="#000" stroke-width="0.18">WT</text>
<text x="591.00" y="178.00" font-size="9.288" text-anchor="start" fill="#000" font-weight="bold" stroke="#000" stroke-width="0.18">isotype <tspan fill="#2a12f6" stroke="#2a12f6"><tspan font-family="Liberation Serif" font-weight="normal" stroke-width="0.1" style="font-size:1.18em">&#945;</tspan><tspan>PD-L2</tspan></tspan></text>
<text x="591.60" y="191.70" font-size="8.32" text-anchor="start" fill="#000" font-weight="bold" stroke="#000" stroke-width="0.25">p&lt; 0.0001,</text>
<text x="633.60" y="191.70" font-size="7.99" text-anchor="start" fill="#2a12f6" font-weight="bold" stroke="#2a12f6" stroke-width="0.25">p= 0.0035</text>
<text x="598.10" y="204.10" font-size="8.21" text-anchor="start" fill="#000" font-weight="bold" stroke="#000" stroke-width="0.25">p= 0.24</text>
<text x="646.00" y="254.50" font-size="8.21" text-anchor="start" fill="#000" font-weight="bold" stroke="#000" stroke-width="0.25">p= 0.0023</text>
<line x1="594.90" y1="195.80" x2="668.20" y2="195.80" stroke="#111" stroke-width="1.3" stroke-linecap="butt"/>
<line x1="604.40" y1="207.40" x2="618.60" y2="207.40" stroke="#111" stroke-width="1.3" stroke-linecap="butt"/>
<line x1="654.30" y1="257.80" x2="667.50" y2="257.80" stroke="#111" stroke-width="1.3" stroke-linecap="butt"/>
<text x="569.07" y="236.00" font-size="10.2" text-anchor="middle" font-weight="bold" stroke="#000" stroke-width="0.18" transform="rotate(-90 569.07 236.00)">% IFN<tspan font-family="Liberation Serif" font-weight="normal" font-size="10.2" dy="1">&#947;</tspan><tspan dy="-4" font-size="7.139999999999999">+</tspan><tspan dy="3"> in CD8</tspan><tspan dy="-3" font-size="7.139999999999999">+</tspan></text>
<text x="557.00" y="171.50" font-size="22" text-anchor="start" fill="#000" font-weight="bold" stroke="#000" stroke-width="0.18">l</text>
<line x1="455.65" y1="354.20" x2="455.65" y2="439.87" stroke="#888" stroke-width="1.2" stroke-linecap="butt"/>
<line x1="455.05" y1="439.27" x2="546.89" y2="439.27" stroke="#111" stroke-width="1.2" stroke-linecap="butt"/>
<line x1="452.15" y1="354.20" x2="455.25" y2="354.20" stroke="#111" stroke-width="1.2" stroke-linecap="butt"/>
<text x="451.05" y="356.54" font-size="6.5" text-anchor="end" fill="#222" font-weight="bold" stroke="#222" stroke-width="0.12">4000</text>
<line x1="452.15" y1="375.30" x2="455.25" y2="375.30" stroke="#111" stroke-width="1.2" stroke-linecap="butt"/>
<text x="451.05" y="377.64" font-size="6.5" text-anchor="end" fill="#222" font-weight="bold" stroke="#222" stroke-width="0.12">3000</text>
<line x1="452.15" y1="396.90" x2="455.25" y2="396.90" stroke="#111" stroke-width="1.2" stroke-linecap="butt"/>
<text x="451.05" y="399.24" font-size="6.5" text-anchor="end" fill="#222" font-weight="bold" stroke="#222" stroke-width="0.12">2000</text>
<line x1="452.15" y1="418.10" x2="455.25" y2="418.10" stroke="#111" stroke-width="1.2" stroke-linecap="butt"/>
<text x="451.05" y="420.44" font-size="6.5" text-anchor="end" fill="#222" font-weight="bold" stroke="#222" stroke-width="0.12">1000</text>
<line x1="452.15" y1="439.30" x2="455.25" y2="439.30" stroke="#111" stroke-width="1.2" stroke-linecap="butt"/>
<text x="451.05" y="441.64" font-size="6.5" text-anchor="end" fill="#222" font-weight="bold" stroke="#222" stroke-width="0.12">0</text>
<line x1="477.55" y1="439.27" x2="477.55" y2="442.77" stroke="#444" stroke-width="0.9" stroke-linecap="butt"/>
<line x1="525.72" y1="439.27" x2="525.72" y2="442.77" stroke="#444" stroke-width="0.9" stroke-linecap="butt"/>
<rect x="462.92" y="411.24" width="10.28" height="28.03" fill="#fff" stroke="#000" stroke-width="1.6"/>
<rect x="480.88" y="401.61" width="10.57" height="37.66" fill="#fff" stroke="#2a12f6" stroke-width="1.8"/>
<rect x="511.82" y="402.48" width="10.57" height="36.79" fill="#fff" stroke="#000" stroke-width="1.6"/>
<rect x="529.63" y="390.36" width="10.42" height="48.91" fill="#fff" stroke="#2a12f6" stroke-width="1.8"/>
<circle cx="468.06" cy="400.15" r="1.7" fill="#000"/>
<circle cx="463.39" cy="403.94" r="1.7" fill="#000"/>
<circle cx="472.44" cy="403.94" r="1.7" fill="#000"/>
<circle cx="463.39" cy="407.88" r="1.7" fill="#000"/>
<circle cx="472.44" cy="407.88" r="1.7" fill="#000"/>
<circle cx="468.06" cy="411.53" r="1.7" fill="#000"/>
<circle cx="463.39" cy="415.91" r="1.7" fill="#000"/>
<circle cx="472.44" cy="415.91" r="1.7" fill="#000"/>
<circle cx="463.39" cy="420.00" r="1.7" fill="#000"/>
<circle cx="472.44" cy="420.29" r="1.7" fill="#000"/>
<circle cx="463.39" cy="423.50" r="1.7" fill="#000"/>
<circle cx="486.31" cy="375.04" r="1.7" fill="#2a12f6"/>
<circle cx="486.31" cy="383.07" r="1.7" fill="#2a12f6"/>
<circle cx="486.31" cy="393.72" r="1.7" fill="#2a12f6"/>
<circle cx="486.31" cy="398.39" r="1.7" fill="#2a12f6"/>
<circle cx="481.93" cy="402.48" r="1.7" fill="#2a12f6"/>
<circle cx="490.69" cy="402.48" r="1.7" fill="#2a12f6"/>
<circle cx="486.31" cy="404.23" r="1.7" fill="#2a12f6"/>
<circle cx="481.93" cy="411.24" r="1.7" fill="#2a12f6"/>
<circle cx="490.69" cy="411.53" r="1.7" fill="#2a12f6"/>
<circle cx="486.31" cy="414.45" r="1.7" fill="#2a12f6"/>
<circle cx="486.31" cy="420.29" r="1.7" fill="#2a12f6"/>
<circle cx="511.85" cy="397.66" r="1.7" fill="#000"/>
<circle cx="518.42" cy="396.93" r="1.7" fill="#000"/>
<circle cx="516.23" cy="399.85" r="1.7" fill="#000"/>
<circle cx="520.61" cy="401.31" r="1.7" fill="#000"/>
<circle cx="512.58" cy="402.04" r="1.7" fill="#000"/>
<circle cx="516.96" cy="404.23" r="1.7" fill="#000"/>
<circle cx="514.77" cy="406.42" r="1.7" fill="#000"/>
<circle cx="519.15" cy="406.86" r="1.7" fill="#000"/>
<circle cx="516.96" cy="410.80" r="1.7" fill="#000"/>
<circle cx="534.77" cy="368.91" r="1.7" fill="#2a12f6"/>
<circle cx="530.83" cy="389.64" r="1.7" fill="#2a12f6"/>
<circle cx="533.75" cy="388.91" r="1.7" fill="#2a12f6"/>
<circle cx="538.13" cy="390.36" r="1.7" fill="#2a12f6"/>
<circle cx="530.83" cy="392.55" r="1.7" fill="#2a12f6"/>
<circle cx="538.13" cy="393.28" r="1.7" fill="#2a12f6"/>
<circle cx="534.48" cy="394.01" r="1.7" fill="#2a12f6"/>
<circle cx="533.75" cy="401.31" r="1.7" fill="#2a12f6"/>
<circle cx="534.77" cy="406.42" r="1.7" fill="#2a12f6"/>
<line x1="468.06" y1="408.91" x2="468.06" y2="413.72" stroke="#000" stroke-width="0.9" stroke-linecap="butt"/>
<line x1="465.76" y1="408.91" x2="470.36" y2="408.91" stroke="#000" stroke-width="0.9" stroke-linecap="butt"/>
<line x1="465.76" y1="413.72" x2="470.36" y2="413.72" stroke="#000" stroke-width="0.9" stroke-linecap="butt"/>
<line x1="486.16" y1="396.20" x2="486.16" y2="406.86" stroke="#2a12f6" stroke-width="0.9" stroke-linecap="butt"/>
<line x1="483.86" y1="396.20" x2="488.46" y2="396.20" stroke="#2a12f6" stroke-width="0.9" stroke-linecap="butt"/>
<line x1="483.86" y1="406.86" x2="488.46" y2="406.86" stroke="#2a12f6" stroke-width="0.9" stroke-linecap="butt"/>
<line x1="517.11" y1="400.58" x2="517.11" y2="404.53" stroke="#000" stroke-width="0.9" stroke-linecap="butt"/>
<line x1="514.81" y1="400.58" x2="519.41" y2="400.58" stroke="#000" stroke-width="0.9" stroke-linecap="butt"/>
<line x1="514.81" y1="404.53" x2="519.41" y2="404.53" stroke="#000" stroke-width="0.9" stroke-linecap="butt"/>
<line x1="534.85" y1="388.18" x2="534.85" y2="394.31" stroke="#2a12f6" stroke-width="0.9" stroke-linecap="butt"/>
<line x1="532.55" y1="388.18" x2="537.15" y2="388.18" stroke="#2a12f6" stroke-width="0.9" stroke-linecap="butt"/>
<line x1="532.55" y1="394.31" x2="537.15" y2="394.31" stroke="#2a12f6" stroke-width="0.9" stroke-linecap="butt"/>
<text x="475.70" y="452.80" font-size="8.9" text-anchor="middle" fill="#000" font-weight="bold" stroke="#000" stroke-width="0.25">Aged</text>
<text x="475.70" y="463.30" font-size="8.9" text-anchor="middle" fill="#000" font-weight="bold" stroke="#000" stroke-width="0.25">WT</text>
<text x="524.30" y="452.80" font-size="8.9" text-anchor="middle" fill="#000" font-weight="bold" stroke="#000" stroke-width="0.25">Young</text>
<text x="524.30" y="463.30" font-size="8.9" text-anchor="middle" fill="#000" font-weight="bold" stroke="#000" stroke-width="0.25">WT</text>
<text x="458.60" y="337.00" font-size="8.549000000000001" text-anchor="start" fill="#000" font-weight="bold" stroke="#000" stroke-width="0.25">isotype <tspan fill="#2a12f6" stroke="#2a12f6"><tspan font-family="Liberation Serif" font-weight="normal" stroke-width="0.1" style="font-size:1.18em">&#945;</tspan><tspan>PD-L2</tspan></tspan></text>
<text x="459.00" y="350.50" font-size="8.29" text-anchor="start" fill="#000" font-weight="bold" stroke="#000" stroke-width="0.25">p= 0.0064,</text>
<text x="503.10" y="350.50" font-size="7.62" text-anchor="start" fill="#2a12f6" font-weight="bold" stroke="#2a12f6" stroke-width="0.25">p= 0.10</text>
<text x="465.40" y="369.20" font-size="7.83" text-anchor="start" fill="#000" font-weight="bold" stroke="#000" stroke-width="0.25">p= 0.067</text>
<text x="513.30" y="362.60" font-size="7.83" text-anchor="start" fill="#000" font-weight="bold" stroke="#000" stroke-width="0.25">p= 0.011</text>
<line x1="462.20" y1="353.90" x2="532.30" y2="353.90" stroke="#111" stroke-width="1.3" stroke-linecap="butt"/>
<line x1="471.40" y1="372.10" x2="485.30" y2="372.10" stroke="#111" stroke-width="1.3" stroke-linecap="butt"/>
<line x1="519.40" y1="366.00" x2="532.30" y2="366.00" stroke="#111" stroke-width="1.3" stroke-linecap="butt"/>
<text x="431.67" y="397.00" font-size="10.2" text-anchor="middle" font-weight="bold" stroke="#000" stroke-width="0.18" transform="rotate(-90 431.67 397.00)">MFI IFN<tspan font-family="Liberation Serif" font-weight="normal" font-size="10.2" dy="1">&#947;</tspan><tspan dy="-1"> in CD8</tspan><tspan dy="-3" font-size="7.139999999999999">+</tspan></text>
<text x="434.10" y="324.20" font-size="22" text-anchor="start" fill="#000" font-weight="bold" stroke="#000" stroke-width="0.18">m</text>
<line x1="591.13" y1="351.00" x2="591.13" y2="438.41" stroke="#111" stroke-width="1.2" stroke-linecap="butt"/>
<line x1="590.53" y1="437.81" x2="681.35" y2="437.81" stroke="#111" stroke-width="1.2" stroke-linecap="butt"/>
<line x1="587.63" y1="351.00" x2="590.73" y2="351.00" stroke="#111" stroke-width="1.2" stroke-linecap="butt"/>
<text x="586.53" y="353.56" font-size="7.1" text-anchor="end" fill="#222" font-weight="bold" stroke="#222" stroke-width="0.12">0.15</text>
<line x1="587.63" y1="380.10" x2="590.73" y2="380.10" stroke="#111" stroke-width="1.2" stroke-linecap="butt"/>
<text x="586.53" y="382.66" font-size="7.1" text-anchor="end" fill="#222" font-weight="bold" stroke="#222" stroke-width="0.12">0.10</text>
<line x1="587.63" y1="409.00" x2="590.73" y2="409.00" stroke="#111" stroke-width="1.2" stroke-linecap="butt"/>
<text x="586.53" y="411.56" font-size="7.1" text-anchor="end" fill="#222" font-weight="bold" stroke="#222" stroke-width="0.12">0.05</text>
<line x1="587.63" y1="437.80" x2="590.73" y2="437.80" stroke="#111" stroke-width="1.2" stroke-linecap="butt"/>
<text x="586.53" y="440.36" font-size="7.1" text-anchor="end" fill="#222" font-weight="bold" stroke="#222" stroke-width="0.12">0.00</text>
<line x1="612.74" y1="437.81" x2="612.74" y2="441.31" stroke="#444" stroke-width="0.9" stroke-linecap="butt"/>
<line x1="662.37" y1="437.81" x2="662.37" y2="441.31" stroke="#444" stroke-width="0.9" stroke-linecap="butt"/>
<rect x="598.55" y="424.96" width="10.57" height="12.85" fill="#fff" stroke="#000" stroke-width="1.6"/>
<rect x="616.65" y="416.93" width="10.72" height="20.88" fill="#fff" stroke="#2a12f6" stroke-width="1.8"/>
<rect x="647.74" y="437.37" width="10.28" height="0.44" fill="#fff" stroke="#000" stroke-width="1.6"/>
<rect x="665.99" y="434.89" width="10.28" height="2.92" fill="#fff" stroke="#2a12f6" stroke-width="1.8"/>
<circle cx="603.69" cy="404.53" r="1.7" fill="#000"/>
<circle cx="603.69" cy="412.99" r="1.7" fill="#000"/>
<circle cx="603.69" cy="419.56" r="1.7" fill="#000"/>
<circle cx="603.69" cy="423.50" r="1.7" fill="#000"/>
<circle cx="599.31" cy="428.32" r="1.7" fill="#000"/>
<circle cx="608.36" cy="428.32" r="1.7" fill="#000"/>
<circle cx="603.69" cy="428.76" r="1.7" fill="#000"/>
<circle cx="599.31" cy="432.26" r="1.7" fill="#000"/>
<circle cx="608.36" cy="432.26" r="1.7" fill="#000"/>
<circle cx="603.69" cy="433.43" r="1.7" fill="#000"/>
<circle cx="599.31" cy="434.89" r="1.7" fill="#000"/>
<circle cx="622.23" cy="372.12" r="1.7" fill="#2a12f6"/>
<circle cx="622.23" cy="393.72" r="1.7" fill="#2a12f6"/>
<circle cx="617.85" cy="415.91" r="1.7" fill="#2a12f6"/>
<circle cx="622.23" cy="416.64" r="1.7" fill="#2a12f6"/>
<circle cx="623.69" cy="421.02" r="1.7" fill="#2a12f6"/>
<circle cx="617.85" cy="429.05" r="1.7" fill="#2a12f6"/>
<circle cx="622.23" cy="431.97" r="1.7" fill="#2a12f6"/>
<circle cx="626.61" cy="431.97" r="1.7" fill="#2a12f6"/>
<circle cx="617.85" cy="434.16" r="1.7" fill="#2a12f6"/>
<circle cx="652.88" cy="433.43" r="1.7" fill="#000"/>
<circle cx="649.23" cy="435.62" r="1.7" fill="#000"/>
<circle cx="655.07" cy="435.62" r="1.7" fill="#000"/>
<circle cx="652.15" cy="436.64" r="1.7" fill="#000"/>
<circle cx="647.77" cy="436.64" r="1.7" fill="#000"/>
<circle cx="657.26" cy="436.64" r="1.7" fill="#000"/>
<circle cx="650.69" cy="437.52" r="1.7" fill="#000"/>
<circle cx="654.34" cy="437.52" r="1.7" fill="#000"/>
<circle cx="668.50" cy="428.76" r="1.7" fill="#2a12f6"/>
<circle cx="676.24" cy="431.68" r="1.7" fill="#2a12f6"/>
<circle cx="666.75" cy="431.97" r="1.7" fill="#2a12f6"/>
<circle cx="671.86" cy="433.43" r="1.7" fill="#2a12f6"/>
<circle cx="674.78" cy="434.89" r="1.7" fill="#2a12f6"/>
<circle cx="666.75" cy="436.35" r="1.7" fill="#2a12f6"/>
<circle cx="671.13" cy="436.35" r="1.7" fill="#2a12f6"/>
<circle cx="676.24" cy="436.35" r="1.7" fill="#2a12f6"/>
<line x1="603.83" y1="421.02" x2="603.83" y2="428.32" stroke="#000" stroke-width="0.9" stroke-linecap="butt"/>
<line x1="601.53" y1="421.02" x2="606.13" y2="421.02" stroke="#000" stroke-width="0.9" stroke-linecap="butt"/>
<line x1="601.53" y1="428.32" x2="606.13" y2="428.32" stroke="#000" stroke-width="0.9" stroke-linecap="butt"/>
<line x1="622.01" y1="409.34" x2="622.01" y2="423.94" stroke="#2a12f6" stroke-width="0.9" stroke-linecap="butt"/>
<line x1="619.71" y1="409.34" x2="624.31" y2="409.34" stroke="#2a12f6" stroke-width="0.9" stroke-linecap="butt"/>
<line x1="619.71" y1="423.94" x2="624.31" y2="423.94" stroke="#2a12f6" stroke-width="0.9" stroke-linecap="butt"/>
<line x1="671.13" y1="433.43" x2="671.13" y2="436.35" stroke="#2a12f6" stroke-width="0.9" stroke-linecap="butt"/>
<line x1="668.83" y1="433.43" x2="673.43" y2="433.43" stroke="#2a12f6" stroke-width="0.9" stroke-linecap="butt"/>
<line x1="668.83" y1="436.35" x2="673.43" y2="436.35" stroke="#2a12f6" stroke-width="0.9" stroke-linecap="butt"/>
<text x="611.40" y="452.00" font-size="9.1" text-anchor="middle" fill="#000" font-weight="bold" stroke="#000" stroke-width="0.18">Aged</text>
<text x="611.40" y="462.30" font-size="9.1" text-anchor="middle" fill="#000" font-weight="bold" stroke="#000" stroke-width="0.18">WT</text>
<text x="661.10" y="452.00" font-size="9.1" text-anchor="middle" fill="#000" font-weight="bold" stroke="#000" stroke-width="0.18">Young</text>
<text x="661.10" y="462.30" font-size="9.1" text-anchor="middle" fill="#000" font-weight="bold" stroke="#000" stroke-width="0.18">WT</text>
<text x="594.00" y="338.00" font-size="9.095" text-anchor="start" fill="#000" font-weight="bold" stroke="#000" stroke-width="0.18">isotype <tspan fill="#2a12f6" stroke="#2a12f6"><tspan font-family="Liberation Serif" font-weight="normal" stroke-width="0.1" style="font-size:1.18em">&#945;</tspan><tspan>PD-L2</tspan></tspan></text>
<text x="594.00" y="351.70" font-size="8.24" text-anchor="start" fill="#000" font-weight="bold" stroke="#000" stroke-width="0.25">p= 0.0022,</text>
<text x="637.60" y="351.70" font-size="7.92" text-anchor="start" fill="#2a12f6" font-weight="bold" stroke="#2a12f6" stroke-width="0.25">p= 0.015</text>
<text x="600.80" y="363.80" font-size="8.13" text-anchor="start" fill="#000" font-weight="bold" stroke="#000" stroke-width="0.25">p= 0.28</text>
<text x="647.00" y="420.30" font-size="8.13" text-anchor="start" fill="#000" font-weight="bold" stroke="#000" stroke-width="0.25">p= 0.15</text>
<line x1="597.00" y1="355.00" x2="669.20" y2="355.00" stroke="#111" stroke-width="1.3" stroke-linecap="butt"/>
<line x1="606.90" y1="366.70" x2="620.50" y2="366.70" stroke="#111" stroke-width="1.3" stroke-linecap="butt"/>
<line x1="655.50" y1="423.90" x2="668.60" y2="423.90" stroke="#111" stroke-width="1.3" stroke-linecap="butt"/>
<text x="569.07" y="393.80" font-size="10.2" text-anchor="middle" font-weight="bold" stroke="#000" stroke-width="0.18" transform="rotate(-90 569.07 393.80)">% IFN<tspan font-family="Liberation Serif" font-weight="normal" font-size="10.2" dy="1">&#947;</tspan><tspan dy="-4" font-size="7.139999999999999">+</tspan><tspan dy="3"> in <tspan font-family="Liberation Serif" font-weight="normal">&#947;&#948;</tspan>TCR</tspan><tspan dy="-3" font-size="7.139999999999999">+</tspan></text>
<text x="557.30" y="324.30" font-size="22" text-anchor="start" fill="#000" font-weight="bold" stroke="#000" stroke-width="0.18">n</text>
<line x1="457.55" y1="513.40" x2="457.55" y2="601.33" stroke="#888" stroke-width="1.2" stroke-linecap="butt"/>
<line x1="453.46" y1="600.73" x2="549.52" y2="600.73" stroke="#333" stroke-width="1.2" stroke-linecap="butt"/>
<line x1="454.05" y1="513.40" x2="457.15" y2="513.40" stroke="#111" stroke-width="1.2" stroke-linecap="butt"/>
<text x="452.95" y="515.96" font-size="7.1" text-anchor="end" fill="#222" font-weight="bold" stroke="#222" stroke-width="0.12">8000</text>
<line x1="454.05" y1="535.30" x2="457.15" y2="535.30" stroke="#111" stroke-width="1.2" stroke-linecap="butt"/>
<text x="452.95" y="537.86" font-size="7.1" text-anchor="end" fill="#222" font-weight="bold" stroke="#222" stroke-width="0.12">6000</text>
<line x1="454.05" y1="557.20" x2="457.15" y2="557.20" stroke="#111" stroke-width="1.2" stroke-linecap="butt"/>
<text x="452.95" y="559.76" font-size="7.1" text-anchor="end" fill="#222" font-weight="bold" stroke="#222" stroke-width="0.12">4000</text>
<line x1="454.05" y1="579.10" x2="457.15" y2="579.10" stroke="#111" stroke-width="1.2" stroke-linecap="butt"/>
<text x="452.95" y="581.66" font-size="7.1" text-anchor="end" fill="#222" font-weight="bold" stroke="#222" stroke-width="0.12">2000</text>
<line x1="454.05" y1="600.70" x2="457.15" y2="600.70" stroke="#111" stroke-width="1.2" stroke-linecap="butt"/>
<text x="452.95" y="603.26" font-size="7.1" text-anchor="end" fill="#222" font-weight="bold" stroke="#222" stroke-width="0.12">0</text>
<line x1="478.72" y1="600.73" x2="478.72" y2="604.23" stroke="#444" stroke-width="0.9" stroke-linecap="butt"/>
<line x1="528.20" y1="600.73" x2="528.20" y2="604.23" stroke="#444" stroke-width="0.9" stroke-linecap="butt"/>
<rect x="464.38" y="588.32" width="10.28" height="12.41" fill="#fff" stroke="#000" stroke-width="1.6"/>
<rect x="483.06" y="579.27" width="10.13" height="21.46" fill="#fff" stroke="#2a12f6" stroke-width="1.8"/>
<rect x="514.01" y="574.16" width="10.28" height="26.57" fill="#fff" stroke="#000" stroke-width="1.6"/>
<rect x="532.55" y="568.61" width="10.28" height="32.12" fill="#fff" stroke="#2a12f6" stroke-width="1.8"/>
<circle cx="465.14" cy="586.13" r="1.7" fill="#000"/>
<circle cx="469.52" cy="585.40" r="1.7" fill="#000"/>
<circle cx="473.90" cy="584.38" r="1.7" fill="#000"/>
<circle cx="466.60" cy="588.32" r="1.7" fill="#000"/>
<circle cx="472.44" cy="588.32" r="1.7" fill="#000"/>
<circle cx="469.52" cy="591.97" r="1.7" fill="#000"/>
<circle cx="466.60" cy="595.62" r="1.7" fill="#000"/>
<circle cx="471.71" cy="594.89" r="1.7" fill="#000"/>
<circle cx="469.52" cy="599.27" r="1.7" fill="#000"/>
<circle cx="467.77" cy="599.56" r="1.7" fill="#000"/>
<circle cx="470.98" cy="600.00" r="1.7" fill="#000"/>
<circle cx="488.20" cy="564.53" r="1.7" fill="#2a12f6"/>
<circle cx="488.20" cy="572.26" r="1.7" fill="#2a12f6"/>
<circle cx="488.20" cy="576.64" r="1.7" fill="#2a12f6"/>
<circle cx="483.82" cy="580.29" r="1.7" fill="#2a12f6"/>
<circle cx="488.20" cy="580.29" r="1.7" fill="#2a12f6"/>
<circle cx="492.58" cy="580.29" r="1.7" fill="#2a12f6"/>
<circle cx="483.82" cy="586.86" r="1.7" fill="#2a12f6"/>
<circle cx="488.20" cy="587.30" r="1.7" fill="#2a12f6"/>
<circle cx="492.58" cy="587.30" r="1.7" fill="#2a12f6"/>
<circle cx="518.86" cy="566.42" r="1.7" fill="#000"/>
<circle cx="514.48" cy="570.07" r="1.7" fill="#000"/>
<circle cx="523.53" cy="571.53" r="1.7" fill="#000"/>
<circle cx="517.69" cy="572.26" r="1.7" fill="#000"/>
<circle cx="520.61" cy="574.45" r="1.7" fill="#000"/>
<circle cx="514.77" cy="576.64" r="1.7" fill="#000"/>
<circle cx="521.34" cy="576.64" r="1.7" fill="#000"/>
<circle cx="517.69" cy="578.83" r="1.7" fill="#000"/>
<circle cx="523.53" cy="579.56" r="1.7" fill="#000"/>
<circle cx="514.77" cy="582.48" r="1.7" fill="#000"/>
<circle cx="537.84" cy="536.50" r="1.7" fill="#2a12f6"/>
<circle cx="542.22" cy="561.31" r="1.7" fill="#2a12f6"/>
<circle cx="537.84" cy="564.53" r="1.7" fill="#2a12f6"/>
<circle cx="533.75" cy="567.88" r="1.7" fill="#2a12f6"/>
<circle cx="542.22" cy="568.61" r="1.7" fill="#2a12f6"/>
<circle cx="537.84" cy="572.26" r="1.7" fill="#2a12f6"/>
<circle cx="533.75" cy="575.91" r="1.7" fill="#2a12f6"/>
<circle cx="542.22" cy="575.91" r="1.7" fill="#2a12f6"/>
<circle cx="537.84" cy="580.00" r="1.7" fill="#2a12f6"/>
<circle cx="537.84" cy="584.38" r="1.7" fill="#2a12f6"/>
<line x1="469.52" y1="586.13" x2="469.52" y2="590.51" stroke="#000" stroke-width="0.9" stroke-linecap="butt"/>
<line x1="467.22" y1="586.13" x2="471.82" y2="586.13" stroke="#000" stroke-width="0.9" stroke-linecap="butt"/>
<line x1="467.22" y1="590.51" x2="471.82" y2="590.51" stroke="#000" stroke-width="0.9" stroke-linecap="butt"/>
<line x1="488.13" y1="576.64" x2="488.13" y2="582.04" stroke="#2a12f6" stroke-width="0.9" stroke-linecap="butt"/>
<line x1="485.83" y1="576.64" x2="490.43" y2="576.64" stroke="#2a12f6" stroke-width="0.9" stroke-linecap="butt"/>
<line x1="485.83" y1="582.04" x2="490.43" y2="582.04" stroke="#2a12f6" stroke-width="0.9" stroke-linecap="butt"/>
<line x1="519.15" y1="572.26" x2="519.15" y2="576.20" stroke="#000" stroke-width="0.9" stroke-linecap="butt"/>
<line x1="516.85" y1="572.26" x2="521.45" y2="572.26" stroke="#000" stroke-width="0.9" stroke-linecap="butt"/>
<line x1="516.85" y1="576.20" x2="521.45" y2="576.20" stroke="#000" stroke-width="0.9" stroke-linecap="butt"/>
<line x1="537.69" y1="564.53" x2="537.69" y2="572.70" stroke="#2a12f6" stroke-width="0.9" stroke-linecap="butt"/>
<line x1="535.39" y1="564.53" x2="539.99" y2="564.53" stroke="#2a12f6" stroke-width="0.9" stroke-linecap="butt"/>
<line x1="535.39" y1="572.70" x2="539.99" y2="572.70" stroke="#2a12f6" stroke-width="0.9" stroke-linecap="butt"/>
<text x="477.10" y="614.90" font-size="9.1" text-anchor="middle" fill="#000" font-weight="bold" stroke="#000" stroke-width="0.18">Aged</text>
<text x="477.10" y="625.40" font-size="9.1" text-anchor="middle" fill="#000" font-weight="bold" stroke="#000" stroke-width="0.18">WT</text>
<text x="527.10" y="614.90" font-size="9.1" text-anchor="middle" fill="#000" font-weight="bold" stroke="#000" stroke-width="0.18">Young</text>
<text x="527.10" y="625.40" font-size="9.1" text-anchor="middle" fill="#000" font-weight="bold" stroke="#000" stroke-width="0.18">WT</text>
<text x="459.90" y="501.00" font-size="9.0415" text-anchor="start" fill="#000" font-weight="bold" stroke="#000" stroke-width="0.25">isotype <tspan fill="#2a12f6" stroke="#2a12f6"><tspan font-family="Liberation Serif" font-weight="normal" stroke-width="0.1" style="font-size:1.18em">&#945;</tspan><tspan>PD-L2</tspan></tspan></text>
<text x="459.60" y="514.60" font-size="8.24" text-anchor="start" fill="#000" font-weight="bold" stroke="#000" stroke-width="0.25">p&lt; 0.0001,</text>
<text x="502.80" y="514.60" font-size="7.92" text-anchor="start" fill="#2a12f6" font-weight="bold" stroke="#2a12f6" stroke-width="0.25">p= 0.076</text>
<text x="516.00" y="527.70" font-size="8.13" text-anchor="start" fill="#000" font-weight="bold" stroke="#000" stroke-width="0.25">p= 0.27</text>
<text x="466.60" y="554.70" font-size="8.13" text-anchor="start" fill="#000" font-weight="bold" stroke="#000" stroke-width="0.25">p= 0.0009</text>
<line x1="463.40" y1="518.50" x2="534.90" y2="518.50" stroke="#111" stroke-width="1.3" stroke-linecap="butt"/>
<line x1="521.30" y1="531.10" x2="534.90" y2="531.10" stroke="#111" stroke-width="1.3" stroke-linecap="butt"/>
<line x1="472.40" y1="557.40" x2="486.00" y2="557.40" stroke="#111" stroke-width="1.3" stroke-linecap="butt"/>
<text x="431.67" y="556.00" font-size="10.2" text-anchor="middle" font-weight="bold" stroke="#000" stroke-width="0.18" transform="rotate(-90 431.67 556.00)">MFI IFN<tspan font-family="Liberation Serif" font-weight="normal" font-size="10.2" dy="1">&#947;</tspan><tspan dy="-1"> in <tspan font-family="Liberation Serif" font-weight="normal">&#947;&#948;</tspan>TCR</tspan><tspan dy="-3" font-size="7.139999999999999">+</tspan></text>
<text x="434.10" y="485.20" font-size="22" text-anchor="start" fill="#000" font-weight="bold" stroke="#000" stroke-width="0.18">o</text>
</svg>
</body></html>
